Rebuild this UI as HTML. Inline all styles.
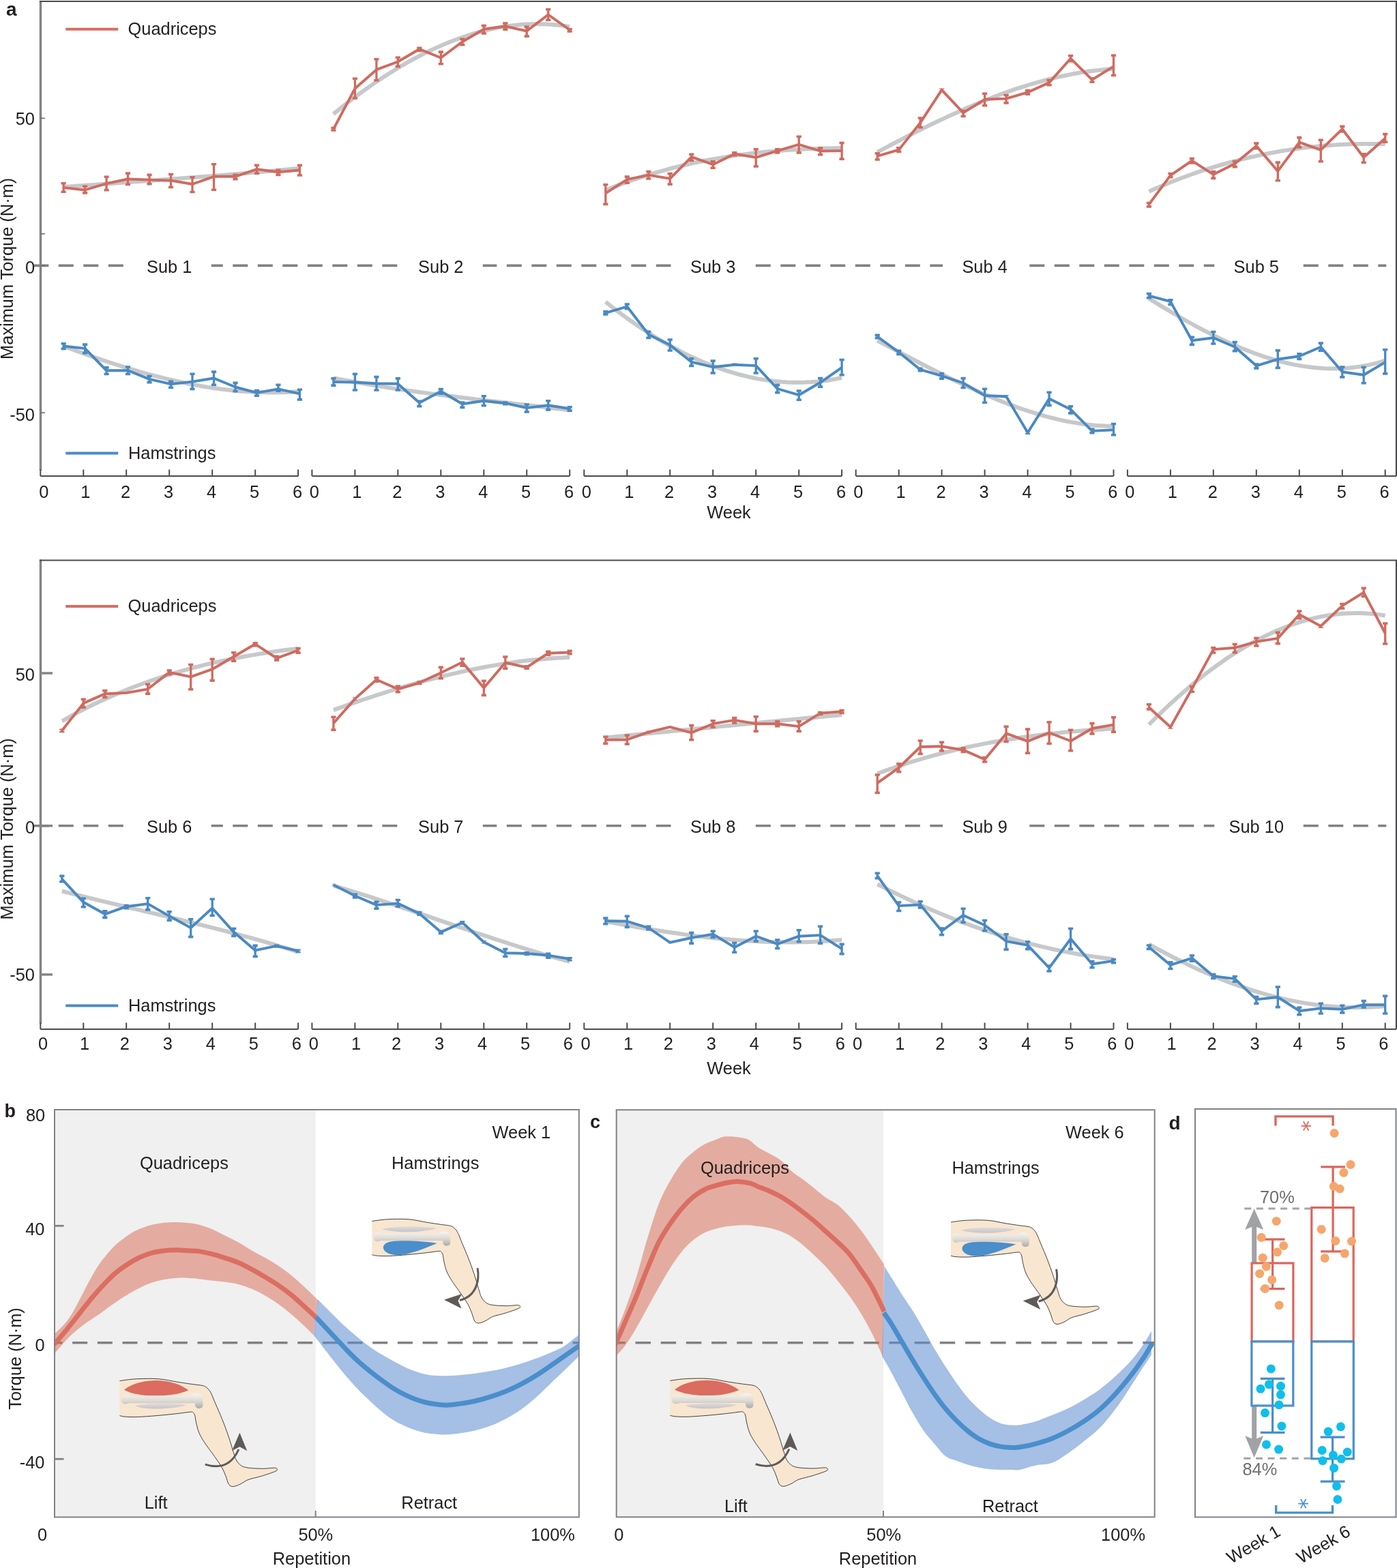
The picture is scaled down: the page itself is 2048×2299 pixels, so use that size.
<!DOCTYPE html>
<html><head><meta charset="utf-8"><title>Figure</title>
<style>html,body{margin:0;padding:0;background:#fff;}svg{display:block;}</style>
</head><body>
<svg xmlns="http://www.w3.org/2000/svg" width="2048" height="2299" viewBox="0 0 2048 2299" font-family="'Liberation Sans', Arial, Helvetica, sans-serif" fill="#221E1F">
<rect width="2048" height="2299" fill="#fff"/>
<path d="M93.1,274.2 L102,273.5 L110.8,272.8 L119.7,272.2 L128.6,271.5 L137.5,270.9 L146.4,270.2 L155.2,269.6 L164.1,268.9 L173,268.3 L181.9,267.6 L190.8,267 L199.6,266.3 L208.5,265.7 L217.4,265 L226.3,264.4 L235.2,263.7 L244.1,263.1 L252.9,262.4 L261.8,261.8 L270.7,261.1 L279.6,260.4 L288.5,259.8 L297.3,259.1 L306.2,258.4 L315.1,257.7 L324,257 L332.9,256.3 L341.7,255.5 L350.6,254.8 L359.5,254.1 L368.4,253.3 L377.3,252.5 L386.1,251.7 L395,251 L403.9,250.1 L412.8,249.3 L421.7,248.5 L430.5,247.6 L439.4,246.8" fill="none" stroke="#C7C8CA" stroke-width="6"/>
<path d="M93.1,507.4 L102,510.8 L110.8,514 L119.7,517.3 L128.6,520.4 L137.5,523.6 L146.4,526.6 L155.2,529.6 L164.1,532.5 L173,535.4 L181.9,538.2 L190.8,540.9 L199.6,543.5 L208.5,546.1 L217.4,548.6 L226.3,550.9 L235.2,553.2 L244.1,555.4 L252.9,557.5 L261.8,559.5 L270.7,561.4 L279.6,563.2 L288.5,564.9 L297.3,566.5 L306.2,567.9 L315.1,569.3 L324,570.5 L332.9,571.6 L341.7,572.5 L350.6,573.4 L359.5,574.1 L368.4,574.6 L377.3,575.1 L386.1,575.3 L395,575.5 L403.9,575.5 L412.8,575.3 L421.7,575 L430.5,574.5 L439.4,573.9" fill="none" stroke="#C7C8CA" stroke-width="6"/>
<path d="M488.9,167.1 L497.8,159.9 L506.6,152.9 L515.5,146 L524.4,139.4 L533.3,132.9 L542.2,126.6 L551,120.4 L559.9,114.5 L568.8,108.7 L577.7,103.2 L586.6,97.8 L595.4,92.6 L604.3,87.7 L613.2,82.9 L622.1,78.3 L631,74 L639.9,69.9 L648.7,65.9 L657.6,62.2 L666.5,58.8 L675.4,55.5 L684.3,52.5 L693.1,49.7 L702,47.1 L710.9,44.8 L719.8,42.7 L728.7,40.9 L737.5,39.3 L746.4,38 L755.3,36.9 L764.2,36.1 L773.1,35.5 L781.9,35.2 L790.8,35.2 L799.7,35.4 L808.6,35.9 L817.5,36.7 L826.3,37.7 L835.2,39.1" fill="none" stroke="#C7C8CA" stroke-width="6"/>
<path d="M488.9,554.2 L497.8,555.9 L506.6,557.6 L515.5,559.3 L524.4,560.9 L533.3,562.4 L542.2,563.9 L551,565.4 L559.9,566.9 L568.8,568.2 L577.7,569.6 L586.6,570.9 L595.4,572.2 L604.3,573.5 L613.2,574.7 L622.1,575.9 L631,577.1 L639.9,578.3 L648.7,579.4 L657.6,580.5 L666.5,581.6 L675.4,582.7 L684.3,583.8 L693.1,584.9 L702,585.9 L710.9,586.9 L719.8,588 L728.7,589 L737.5,590 L746.4,591 L755.3,592 L764.2,593 L773.1,594.1 L781.9,595.1 L790.8,596.1 L799.7,597.1 L808.6,598.2 L817.5,599.2 L826.3,600.3 L835.2,601.4" fill="none" stroke="#C7C8CA" stroke-width="6"/>
<path d="M887.8,279 L896.7,275.4 L905.5,271.9 L914.4,268.6 L923.3,265.4 L932.2,262.3 L941.1,259.4 L949.9,256.5 L958.8,253.8 L967.7,251.3 L976.6,248.8 L985.5,246.4 L994.3,244.2 L1003.2,242 L1012.1,240 L1021,238.1 L1029.9,236.3 L1038.8,234.5 L1047.6,232.9 L1056.5,231.4 L1065.4,229.9 L1074.3,228.6 L1083.2,227.3 L1092,226.2 L1100.9,225.1 L1109.8,224.1 L1118.7,223.1 L1127.6,222.3 L1136.4,221.5 L1145.3,220.8 L1154.2,220.1 L1163.1,219.6 L1172,219.1 L1180.8,218.6 L1189.7,218.2 L1198.6,217.9 L1207.5,217.6 L1216.4,217.4 L1225.2,217.2 L1234.1,217.1" fill="none" stroke="#C7C8CA" stroke-width="6"/>
<path d="M887.8,442.6 L896.7,449.6 L905.5,456.4 L914.4,463.1 L923.3,469.5 L932.2,475.7 L941.1,481.7 L949.9,487.6 L958.8,493.2 L967.7,498.6 L976.6,503.8 L985.5,508.7 L994.3,513.5 L1003.2,518.1 L1012.1,522.4 L1021,526.5 L1029.9,530.4 L1038.8,534.1 L1047.6,537.5 L1056.5,540.7 L1065.4,543.7 L1074.3,546.4 L1083.2,549 L1092,551.2 L1100.9,553.3 L1109.8,555.1 L1118.7,556.6 L1127.6,557.9 L1136.4,559 L1145.3,559.8 L1154.2,560.4 L1163.1,560.7 L1172,560.7 L1180.8,560.6 L1189.7,560.1 L1198.6,559.4 L1207.5,558.4 L1216.4,557.2 L1225.2,555.6 L1234.1,553.9" fill="none" stroke="#C7C8CA" stroke-width="6"/>
<path d="M1286.2,223.1 L1295.1,218.3 L1303.9,213.6 L1312.8,209 L1321.7,204.3 L1330.6,199.8 L1339.5,195.2 L1348.3,190.8 L1357.2,186.4 L1366.1,182 L1375,177.8 L1383.9,173.6 L1392.7,169.4 L1401.6,165.4 L1410.5,161.4 L1419.4,157.5 L1428.3,153.8 L1437.2,150.1 L1446,146.5 L1454.9,143 L1463.8,139.6 L1472.7,136.3 L1481.6,133.2 L1490.4,130.2 L1499.3,127.3 L1508.2,124.5 L1517.1,121.8 L1526,119.3 L1534.8,116.9 L1543.7,114.7 L1552.6,112.6 L1561.5,110.7 L1570.4,108.9 L1579.2,107.2 L1588.1,105.8 L1597,104.5 L1605.9,103.4 L1614.8,102.4 L1623.6,101.6 L1632.5,101" fill="none" stroke="#C7C8CA" stroke-width="6"/>
<path d="M1286.2,499.3 L1295.1,504 L1303.9,508.7 L1312.8,513.4 L1321.7,518.1 L1330.6,522.7 L1339.5,527.4 L1348.3,532 L1357.2,536.6 L1366.1,541.2 L1375,545.7 L1383.9,550.2 L1392.7,554.6 L1401.6,558.9 L1410.5,563.1 L1419.4,567.3 L1428.3,571.4 L1437.2,575.4 L1446,579.2 L1454.9,583 L1463.8,586.7 L1472.7,590.2 L1481.6,593.6 L1490.4,596.9 L1499.3,600 L1508.2,602.9 L1517.1,605.7 L1526,608.4 L1534.8,610.9 L1543.7,613.2 L1552.6,615.3 L1561.5,617.2 L1570.4,618.9 L1579.2,620.4 L1588.1,621.7 L1597,622.8 L1605.9,623.7 L1614.8,624.3 L1623.6,624.7 L1632.5,624.8" fill="none" stroke="#C7C8CA" stroke-width="6"/>
<path d="M1684.4,280.7 L1693.3,276.8 L1702.1,273 L1711,269.3 L1719.9,265.7 L1728.8,262.3 L1737.7,259 L1746.5,255.8 L1755.4,252.7 L1764.3,249.7 L1773.2,246.9 L1782.1,244.1 L1790.9,241.5 L1799.8,239 L1808.7,236.6 L1817.6,234.3 L1826.5,232.1 L1835.4,230 L1844.2,228.1 L1853.1,226.2 L1862,224.5 L1870.9,222.9 L1879.8,221.3 L1888.6,219.9 L1897.5,218.6 L1906.4,217.4 L1915.3,216.3 L1924.2,215.3 L1933,214.4 L1941.9,213.6 L1950.8,212.9 L1959.7,212.3 L1968.6,211.8 L1977.4,211.5 L1986.3,211.2 L1995.2,211 L2004.1,210.9 L2013,210.9 L2021.8,211 L2030.7,211.2" fill="none" stroke="#C7C8CA" stroke-width="6"/>
<path d="M1684.4,437.5 L1693.3,443.1 L1702.1,448.6 L1711,453.9 L1719.9,459.3 L1728.8,464.5 L1737.7,469.6 L1746.5,474.5 L1755.4,479.4 L1764.3,484.1 L1773.2,488.7 L1782.1,493.2 L1790.9,497.5 L1799.8,501.6 L1808.7,505.6 L1817.6,509.4 L1826.5,513.1 L1835.4,516.5 L1844.2,519.7 L1853.1,522.8 L1862,525.6 L1870.9,528.2 L1879.8,530.6 L1888.6,532.7 L1897.5,534.6 L1906.4,536.2 L1915.3,537.6 L1924.2,538.7 L1933,539.6 L1941.9,540.2 L1950.8,540.4 L1959.7,540.4 L1968.6,540.1 L1977.4,539.5 L1986.3,538.5 L1995.2,537.2 L2004.1,535.6 L2013,533.7 L2021.8,531.4 L2030.7,528.7" fill="none" stroke="#C7C8CA" stroke-width="6"/>
<line x1="49.3" y1="389.4" x2="2032.3" y2="389.4" stroke="#808184" stroke-width="3.6" stroke-dasharray="22 14.5"/>
<rect x="186.7" y="374.4" width="123" height="30" fill="#fff"/>
<text x="248.2" y="399.8" font-size="25.4" text-anchor="middle">Sub 1</text>
<rect x="584.8" y="374.4" width="123" height="30" fill="#fff"/>
<text x="646.3" y="399.8" font-size="25.4" text-anchor="middle">Sub 2</text>
<rect x="983.7" y="374.4" width="123" height="30" fill="#fff"/>
<text x="1045.2" y="399.8" font-size="25.4" text-anchor="middle">Sub 3</text>
<rect x="1382.1" y="374.4" width="123" height="30" fill="#fff"/>
<text x="1443.6" y="399.8" font-size="25.4" text-anchor="middle">Sub 4</text>
<rect x="1780.3" y="374.4" width="123" height="30" fill="#fff"/>
<text x="1841.8" y="399.8" font-size="25.4" text-anchor="middle">Sub 5</text>
<polyline points="93.1,275.1 124.6,278.5 156.1,269.2 187.5,262.5 219,263.6 250.5,264.7 282,270 313.5,258.8 345,258.8 376.5,248.1 407.9,252.3 439.4,249.5" fill="none" stroke="#CE6B60" stroke-width="3.9" stroke-linejoin="round"/>
<path d="M93.1,268V282M124.6,272.5V283.7M156.1,258.4V279.5M187.5,253.3V271.3M219,255.6V270.5M250.5,254.7V275.3M282,259V282.3M313.5,240V279M345,255.6V263.4M376.5,241.5V255M407.9,248.6V257.2M439.4,241.5V257.8" fill="none" stroke="#CE6B60" stroke-width="3.3"/>
<path d="M89.5,267h7.2v3.6h-7.2zM89.5,283h7.2v-3.6h-7.2zM121,271.5h7.2v3.6h-7.2zM121,284.7h7.2v-3.6h-7.2zM152.5,257.4h7.2v3.6h-7.2zM152.5,280.5h7.2v-3.6h-7.2zM183.9,252.3h7.2v3.6h-7.2zM183.9,272.3h7.2v-3.6h-7.2zM215.4,254.6h7.2v3.6h-7.2zM215.4,271.5h7.2v-3.6h-7.2zM246.9,253.7h7.2v3.6h-7.2zM246.9,276.3h7.2v-3.6h-7.2zM278.4,258h7.2v3.6h-7.2zM278.4,283.3h7.2v-3.6h-7.2zM309.9,239h7.2v3.6h-7.2zM309.9,280h7.2v-3.6h-7.2zM341.4,254.6h7.2v3.6h-7.2zM341.4,264.4h7.2v-3.6h-7.2zM372.9,240.5h7.2v3.6h-7.2zM372.9,256h7.2v-3.6h-7.2zM404.3,247.6h7.2v3.6h-7.2zM404.3,258.2h7.2v-3.6h-7.2zM435.8,240.5h7.2v3.6h-7.2zM435.8,258.8h7.2v-3.6h-7.2z" fill="#CE6B60"/>
<polyline points="93.1,507.5 124.6,510.9 156.1,543.3 187.5,543.3 219,555.9 250.5,563.2 282,559.6 313.5,554.5 345,567.5 376.5,575.9 407.9,570.3 439.4,577.3" fill="none" stroke="#4A89C2" stroke-width="3.9" stroke-linejoin="round"/>
<path d="M93.1,502.9V512.2M124.6,504.3V518.4M156.1,538.1V549.3M187.5,537.2V549.3M219,550.7V561.4M250.5,558.6V569M282,547.4V571.2M313.5,544.3V565.1M345,560.6V574.6M376.5,571.8V581.1M407.9,563.4V574M439.4,570.4V586.7" fill="none" stroke="#4A89C2" stroke-width="3.3"/>
<path d="M89.5,501.9h7.2v3.6h-7.2zM89.5,513.2h7.2v-3.6h-7.2zM121,503.3h7.2v3.6h-7.2zM121,519.4h7.2v-3.6h-7.2zM152.5,537.1h7.2v3.6h-7.2zM152.5,550.3h7.2v-3.6h-7.2zM183.9,536.2h7.2v3.6h-7.2zM183.9,550.3h7.2v-3.6h-7.2zM215.4,549.7h7.2v3.6h-7.2zM215.4,562.4h7.2v-3.6h-7.2zM246.9,557.6h7.2v3.6h-7.2zM246.9,570h7.2v-3.6h-7.2zM278.4,546.4h7.2v3.6h-7.2zM278.4,572.2h7.2v-3.6h-7.2zM309.9,543.3h7.2v3.6h-7.2zM309.9,566.1h7.2v-3.6h-7.2zM341.4,559.6h7.2v3.6h-7.2zM341.4,575.6h7.2v-3.6h-7.2zM372.9,570.8h7.2v3.6h-7.2zM372.9,582.1h7.2v-3.6h-7.2zM404.3,562.4h7.2v3.6h-7.2zM404.3,575h7.2v-3.6h-7.2zM435.8,569.4h7.2v3.6h-7.2zM435.8,587.7h7.2v-3.6h-7.2z" fill="#4A89C2"/>
<polyline points="488.9,189.2 520.4,129.7 551.9,102.2 583.3,90.5 614.8,72 646.3,84.7 677.8,61.2 709.3,42.7 740.8,38.5 772.2,45.5 803.7,21.5 835.2,43.8" fill="none" stroke="#CE6B60" stroke-width="3.9" stroke-linejoin="round"/>
<path d="M488.9,186.8V191.7M520.4,114.5V144.8M551.9,85.9V118.5M583.3,83.4V98.2M614.8,69.5V75.2M646.3,75.3V94.5M677.8,56.4V66.4M709.3,36.8V49.8M740.8,33.3V44M772.2,38.6V53.9M803.7,13V30.2M835.2,42.1V46.8" fill="none" stroke="#CE6B60" stroke-width="3.3"/>
<path d="M485.3,185.8h7.2v3.6h-7.2zM485.3,192.7h7.2v-3.6h-7.2zM516.8,113.5h7.2v3.6h-7.2zM516.8,145.8h7.2v-3.6h-7.2zM548.3,84.9h7.2v3.6h-7.2zM548.3,119.5h7.2v-3.6h-7.2zM579.7,82.4h7.2v3.6h-7.2zM579.7,99.2h7.2v-3.6h-7.2zM611.2,68.5h7.2v3.6h-7.2zM611.2,76.2h7.2v-3.6h-7.2zM642.7,74.3h7.2v3.6h-7.2zM642.7,95.5h7.2v-3.6h-7.2zM674.2,55.4h7.2v3.6h-7.2zM674.2,67.4h7.2v-3.6h-7.2zM705.7,35.8h7.2v3.6h-7.2zM705.7,50.8h7.2v-3.6h-7.2zM737.2,32.3h7.2v3.6h-7.2zM737.2,45h7.2v-3.6h-7.2zM768.6,37.6h7.2v3.6h-7.2zM768.6,54.9h7.2v-3.6h-7.2zM800.1,12h7.2v3.6h-7.2zM800.1,31.2h7.2v-3.6h-7.2zM831.6,41.1h7.2v3.6h-7.2zM831.6,47.8h7.2v-3.6h-7.2z" fill="#CE6B60"/>
<polyline points="488.9,560 520.4,560.5 551.9,562.3 583.3,562.8 614.8,590.5 646.3,573.8 677.8,592.3 709.3,587.7 740.8,591.2 772.2,598.1 803.7,594.2 835.2,599.2" fill="none" stroke="#4A89C2" stroke-width="3.9" stroke-linejoin="round"/>
<path d="M488.9,554.1V565.9M520.4,547.6V572.8M551.9,551.8V572.8M583.3,554.1V572.8M614.8,587.5V596.4M646.3,569.8V577.9M677.8,589.2V598.2M709.3,579.9V595.5M740.8,589.2V593.6M772.2,592.2V604.7M803.7,586.9V601.7M835.2,596.1V602.9" fill="none" stroke="#4A89C2" stroke-width="3.3"/>
<path d="M485.3,553.1h7.2v3.6h-7.2zM485.3,566.9h7.2v-3.6h-7.2zM516.8,546.6h7.2v3.6h-7.2zM516.8,573.8h7.2v-3.6h-7.2zM548.3,550.8h7.2v3.6h-7.2zM548.3,573.8h7.2v-3.6h-7.2zM579.7,553.1h7.2v3.6h-7.2zM579.7,573.8h7.2v-3.6h-7.2zM611.2,586.5h7.2v3.6h-7.2zM611.2,597.4h7.2v-3.6h-7.2zM642.7,568.8h7.2v3.6h-7.2zM642.7,578.9h7.2v-3.6h-7.2zM674.2,588.2h7.2v3.6h-7.2zM674.2,599.2h7.2v-3.6h-7.2zM705.7,578.9h7.2v3.6h-7.2zM705.7,596.5h7.2v-3.6h-7.2zM737.2,588.2h7.2v3.6h-7.2zM737.2,594.6h7.2v-3.6h-7.2zM768.6,591.2h7.2v3.6h-7.2zM768.6,605.7h7.2v-3.6h-7.2zM800.1,585.9h7.2v3.6h-7.2zM800.1,602.7h7.2v-3.6h-7.2zM831.6,595.1h7.2v3.6h-7.2zM831.6,603.9h7.2v-3.6h-7.2z" fill="#4A89C2"/>
<polyline points="887.8,283.4 919.3,263.1 950.8,256.6 982.2,261.9 1013.7,230.1 1045.2,241.2 1076.7,225.7 1108.2,230.8 1139.7,221.1 1171.2,211.8 1202.6,221.5 1234.1,221.1" fill="none" stroke="#CE6B60" stroke-width="3.9" stroke-linejoin="round"/>
<path d="M887.8,269.9V300.2M919.3,258.3V269M950.8,250.7V262.8M982.2,253.7V270.9M1013.7,225.5V236M1045.2,235.9V247.1M1076.7,223V228.6M1108.2,217.9V244.8M1139.7,217.9V224.7M1171.2,199.5V224.7M1202.6,216.3V227.5M1234.1,208.7V233.9" fill="none" stroke="#CE6B60" stroke-width="3.3"/>
<path d="M884.2,268.9h7.2v3.6h-7.2zM884.2,301.2h7.2v-3.6h-7.2zM915.7,257.3h7.2v3.6h-7.2zM915.7,270h7.2v-3.6h-7.2zM947.2,249.7h7.2v3.6h-7.2zM947.2,263.8h7.2v-3.6h-7.2zM978.6,252.7h7.2v3.6h-7.2zM978.6,271.9h7.2v-3.6h-7.2zM1010.1,224.5h7.2v3.6h-7.2zM1010.1,237h7.2v-3.6h-7.2zM1041.6,234.9h7.2v3.6h-7.2zM1041.6,248.1h7.2v-3.6h-7.2zM1073.1,222h7.2v3.6h-7.2zM1073.1,229.6h7.2v-3.6h-7.2zM1104.6,216.9h7.2v3.6h-7.2zM1104.6,245.8h7.2v-3.6h-7.2zM1136.1,216.9h7.2v3.6h-7.2zM1136.1,225.7h7.2v-3.6h-7.2zM1167.6,198.5h7.2v3.6h-7.2zM1167.6,225.7h7.2v-3.6h-7.2zM1199,215.3h7.2v3.6h-7.2zM1199,228.5h7.2v-3.6h-7.2zM1230.5,207.7h7.2v3.6h-7.2zM1230.5,234.9h7.2v-3.6h-7.2z" fill="#CE6B60"/>
<polyline points="887.8,458.8 919.3,449.5 950.8,490.4 982.2,505.8 1013.7,530.8 1045.2,538.2 1076.7,534.7 1108.2,536.1 1139.7,570 1171.2,579.2 1202.6,560.8 1234.1,538.9" fill="none" stroke="#4A89C2" stroke-width="3.9" stroke-linejoin="round"/>
<path d="M887.8,456.1V461.7M919.3,445.2V453.6M950.8,485.6V496.3M982.2,497.2V514.8M1013.7,524.9V537.2M1045.2,528.3V547.8M1076.7,533.4V536M1108.2,524.9V547.8M1139.7,563.6V576.4M1171.2,572.2V587M1202.6,553.7V567.9M1234.1,526.7V550.5" fill="none" stroke="#4A89C2" stroke-width="3.3"/>
<path d="M884.2,455.1h7.2v3.6h-7.2zM884.2,462.7h7.2v-3.6h-7.2zM915.7,444.2h7.2v3.6h-7.2zM915.7,454.6h7.2v-3.6h-7.2zM947.2,484.6h7.2v3.6h-7.2zM947.2,497.3h7.2v-3.6h-7.2zM978.6,496.2h7.2v3.6h-7.2zM978.6,515.8h7.2v-3.6h-7.2zM1010.1,523.9h7.2v3.6h-7.2zM1010.1,538.2h7.2v-3.6h-7.2zM1041.6,527.3h7.2v3.6h-7.2zM1041.6,548.8h7.2v-3.6h-7.2zM1073.1,532.4h7.2v3.6h-7.2zM1073.1,537h7.2v-3.6h-7.2zM1104.6,523.9h7.2v3.6h-7.2zM1104.6,548.8h7.2v-3.6h-7.2zM1136.1,562.6h7.2v3.6h-7.2zM1136.1,577.4h7.2v-3.6h-7.2zM1167.6,571.2h7.2v3.6h-7.2zM1167.6,588h7.2v-3.6h-7.2zM1199,552.7h7.2v3.6h-7.2zM1199,568.9h7.2v-3.6h-7.2zM1230.5,525.7h7.2v3.6h-7.2zM1230.5,551.5h7.2v-3.6h-7.2z" fill="#4A89C2"/>
<polyline points="1286.2,228.9 1317.7,219.6 1349.2,179.9 1380.6,131.9 1412.1,165.4 1443.6,145.8 1475.1,144.6 1506.6,135.4 1538.1,121.1 1569.6,85.8 1601,116.9 1632.5,97.3" fill="none" stroke="#CE6B60" stroke-width="3.9" stroke-linejoin="round"/>
<path d="M1286.2,224.1V234.8M1317.7,216V223.2M1349.2,172.2V187.5M1380.6,130.5V133.3M1412.1,161.8V171.3M1443.6,136.4V155.6M1475.1,138.7V151.7M1506.6,131.8V139M1538.1,116.8V125.6M1569.6,81V90.5M1601,114V121M1632.5,80.5V111.3" fill="none" stroke="#CE6B60" stroke-width="3.3"/>
<path d="M1282.6,223.1h7.2v3.6h-7.2zM1282.6,235.8h7.2v-3.6h-7.2zM1314.1,215h7.2v3.6h-7.2zM1314.1,224.2h7.2v-3.6h-7.2zM1345.6,171.2h7.2v3.6h-7.2zM1345.6,188.5h7.2v-3.6h-7.2zM1377,129.5h7.2v3.6h-7.2zM1377,134.3h7.2v-3.6h-7.2zM1408.5,160.8h7.2v3.6h-7.2zM1408.5,172.3h7.2v-3.6h-7.2zM1440,135.4h7.2v3.6h-7.2zM1440,156.6h7.2v-3.6h-7.2zM1471.5,137.7h7.2v3.6h-7.2zM1471.5,152.7h7.2v-3.6h-7.2zM1503,130.8h7.2v3.6h-7.2zM1503,140h7.2v-3.6h-7.2zM1534.5,115.8h7.2v3.6h-7.2zM1534.5,126.6h7.2v-3.6h-7.2zM1566,80h7.2v3.6h-7.2zM1566,91.5h7.2v-3.6h-7.2zM1597.4,113h7.2v3.6h-7.2zM1597.4,122h7.2v-3.6h-7.2zM1628.9,79.5h7.2v3.6h-7.2zM1628.9,112.3h7.2v-3.6h-7.2z" fill="#CE6B60"/>
<polyline points="1286.2,493.5 1317.7,516.5 1349.2,541.9 1380.6,551.2 1412.1,561.5 1443.6,580 1475.1,581.2 1506.6,634.2 1538.1,584.6 1569.6,600.3 1601,631.9 1632.5,630.3" fill="none" stroke="#4A89C2" stroke-width="3.9" stroke-linejoin="round"/>
<path d="M1286.2,490.5V496.4M1317.7,513.6V520.2M1349.2,539.5V544.4M1380.6,546.8V555.9M1412.1,553.8V569.3M1443.6,569.5V591M1475.1,579.9V582.5M1506.6,632.5V636M1538.1,574.5V595.2M1569.6,594.9V606.7M1601,628.3V635.6M1632.5,620.7V638.5" fill="none" stroke="#4A89C2" stroke-width="3.3"/>
<path d="M1282.6,489.5h7.2v3.6h-7.2zM1282.6,497.4h7.2v-3.6h-7.2zM1314.1,512.6h7.2v3.6h-7.2zM1314.1,521.2h7.2v-3.6h-7.2zM1345.6,538.5h7.2v3.6h-7.2zM1345.6,545.4h7.2v-3.6h-7.2zM1377,545.8h7.2v3.6h-7.2zM1377,556.9h7.2v-3.6h-7.2zM1408.5,552.8h7.2v3.6h-7.2zM1408.5,570.3h7.2v-3.6h-7.2zM1440,568.5h7.2v3.6h-7.2zM1440,592h7.2v-3.6h-7.2zM1471.5,578.9h7.2v3.6h-7.2zM1471.5,583.5h7.2v-3.6h-7.2zM1503,631.5h7.2v3.6h-7.2zM1503,637h7.2v-3.6h-7.2zM1534.5,573.5h7.2v3.6h-7.2zM1534.5,596.2h7.2v-3.6h-7.2zM1566,593.9h7.2v3.6h-7.2zM1566,607.7h7.2v-3.6h-7.2zM1597.4,627.3h7.2v3.6h-7.2zM1597.4,636.6h7.2v-3.6h-7.2zM1628.9,619.7h7.2v3.6h-7.2zM1628.9,639.5h7.2v-3.6h-7.2z" fill="#4A89C2"/>
<polyline points="1684.4,299.7 1715.9,257.2 1747.4,235.6 1778.8,255.8 1810.3,240.1 1841.8,213.9 1873.3,250.9 1904.8,208.7 1936.3,219.9 1967.8,189.2 1999.2,230.7 2030.7,202.7" fill="none" stroke="#CE6B60" stroke-width="3.9" stroke-linejoin="round"/>
<path d="M1684.4,296.7V303.7M1715.9,253.7V260.6M1747.4,231.7V239.8M1778.8,250.8V262.2M1810.3,235.7V245.4M1841.8,209.3V218.5M1873.3,237.3V265.6M1904.8,200.8V216.7M1936.3,204.4V237.5M1967.8,184.6V193.8M1999.2,225V239.1M2030.7,195.8V209.1" fill="none" stroke="#CE6B60" stroke-width="3.3"/>
<path d="M1680.8,295.7h7.2v3.6h-7.2zM1680.8,304.7h7.2v-3.6h-7.2zM1712.3,252.7h7.2v3.6h-7.2zM1712.3,261.6h7.2v-3.6h-7.2zM1743.8,230.7h7.2v3.6h-7.2zM1743.8,240.8h7.2v-3.6h-7.2zM1775.2,249.8h7.2v3.6h-7.2zM1775.2,263.2h7.2v-3.6h-7.2zM1806.7,234.7h7.2v3.6h-7.2zM1806.7,246.4h7.2v-3.6h-7.2zM1838.2,208.3h7.2v3.6h-7.2zM1838.2,219.5h7.2v-3.6h-7.2zM1869.7,236.3h7.2v3.6h-7.2zM1869.7,266.6h7.2v-3.6h-7.2zM1901.2,199.8h7.2v3.6h-7.2zM1901.2,217.7h7.2v-3.6h-7.2zM1932.7,203.4h7.2v3.6h-7.2zM1932.7,238.5h7.2v-3.6h-7.2zM1964.2,183.6h7.2v3.6h-7.2zM1964.2,194.8h7.2v-3.6h-7.2zM1995.6,224h7.2v3.6h-7.2zM1995.6,240.1h7.2v-3.6h-7.2zM2027.1,194.8h7.2v3.6h-7.2zM2027.1,210.1h7.2v-3.6h-7.2z" fill="#CE6B60"/>
<polyline points="1684.4,433.6 1715.9,442.1 1747.4,499.3 1778.8,495.3 1810.3,508.7 1841.8,536.3 1873.3,526.7 1904.8,522.2 1936.3,508.7 1967.8,545.3 1999.2,549.7 2030.7,531.1" fill="none" stroke="#4A89C2" stroke-width="3.9" stroke-linejoin="round"/>
<path d="M1684.4,429.7V437.6M1715.9,439.1V447.2M1747.4,493.4V506.2M1778.8,485.7V504.8M1810.3,500.8V515.6M1841.8,533.3V540.7M1873.3,513.1V540.2M1904.8,518V527.2M1936.3,502.3V515.1M1967.8,537.3V553.7M1999.2,537.7V562.6M2030.7,512V548.7" fill="none" stroke="#4A89C2" stroke-width="3.3"/>
<path d="M1680.8,428.7h7.2v3.6h-7.2zM1680.8,438.6h7.2v-3.6h-7.2zM1712.3,438.1h7.2v3.6h-7.2zM1712.3,448.2h7.2v-3.6h-7.2zM1743.8,492.4h7.2v3.6h-7.2zM1743.8,507.2h7.2v-3.6h-7.2zM1775.2,484.7h7.2v3.6h-7.2zM1775.2,505.8h7.2v-3.6h-7.2zM1806.7,499.8h7.2v3.6h-7.2zM1806.7,516.6h7.2v-3.6h-7.2zM1838.2,532.3h7.2v3.6h-7.2zM1838.2,541.7h7.2v-3.6h-7.2zM1869.7,512.1h7.2v3.6h-7.2zM1869.7,541.2h7.2v-3.6h-7.2zM1901.2,517h7.2v3.6h-7.2zM1901.2,528.2h7.2v-3.6h-7.2zM1932.7,501.3h7.2v3.6h-7.2zM1932.7,516.1h7.2v-3.6h-7.2zM1964.2,536.3h7.2v3.6h-7.2zM1964.2,554.7h7.2v-3.6h-7.2zM1995.6,536.7h7.2v3.6h-7.2zM1995.6,563.6h7.2v-3.6h-7.2zM2027.1,511h7.2v3.6h-7.2zM2027.1,549.7h7.2v-3.6h-7.2z" fill="#4A89C2"/>
<line x1="59.5" y1="1" x2="59.5" y2="690" stroke="#828387" stroke-width="3.5"/>
<path d="M58,2H2047V698" fill="none" stroke="#4B4B4D" stroke-width="2.2"/>
<line x1="59" y1="173.4" x2="66" y2="173.4" stroke="#6d6e71" stroke-width="1.6"/>
<text x="51" y="183.2" font-size="25.4" text-anchor="end">50</text>
<line x1="59" y1="389.4" x2="66" y2="389.4" stroke="#6d6e71" stroke-width="1.6"/>
<text x="51" y="401.3" font-size="25.4" text-anchor="end">0</text>
<line x1="59" y1="605.2" x2="66" y2="605.2" stroke="#6d6e71" stroke-width="1.6"/>
<text x="51" y="617.3" font-size="25.4" text-anchor="end">-50</text>
<path d="M59.3,698H437.1M59.3,698V688.5M122.3,698V688.5M185.2,698V688.5M248.2,698V688.5M311.2,698V688.5M374.2,698V688.5M437.1,698V688.5" fill="none" stroke="#4B4B4D" stroke-width="2"/>
<text x="64.2" y="730" font-size="25.4" text-anchor="middle">0</text>
<text x="125.2" y="730" font-size="25.4" text-anchor="middle">1</text>
<text x="184.1" y="730" font-size="25.4" text-anchor="middle">2</text>
<text x="247.1" y="730" font-size="25.4" text-anchor="middle">3</text>
<text x="310.1" y="730" font-size="25.4" text-anchor="middle">4</text>
<text x="373.1" y="730" font-size="25.4" text-anchor="middle">5</text>
<text x="436" y="730" font-size="25.4" text-anchor="middle">6</text>
<path d="M457.4,698H835.2M457.4,698V688.5M520.4,698V688.5M583.3,698V688.5M646.3,698V688.5M709.3,698V688.5M772.2,698V688.5M835.2,698V688.5" fill="none" stroke="#4B4B4D" stroke-width="2"/>
<text x="460.9" y="730" font-size="25.4" text-anchor="middle">0</text>
<text x="523.3" y="730" font-size="25.4" text-anchor="middle">1</text>
<text x="582.2" y="730" font-size="25.4" text-anchor="middle">2</text>
<text x="645.2" y="730" font-size="25.4" text-anchor="middle">3</text>
<text x="708.2" y="730" font-size="25.4" text-anchor="middle">4</text>
<text x="771.1" y="730" font-size="25.4" text-anchor="middle">5</text>
<text x="834.1" y="730" font-size="25.4" text-anchor="middle">6</text>
<path d="M856.3,698H1234.1M856.3,698V688.5M919.3,698V688.5M982.2,698V688.5M1045.2,698V688.5M1108.2,698V688.5M1171.2,698V688.5M1234.1,698V688.5" fill="none" stroke="#4B4B4D" stroke-width="2"/>
<text x="859.8" y="730" font-size="25.4" text-anchor="middle">0</text>
<text x="922.2" y="730" font-size="25.4" text-anchor="middle">1</text>
<text x="981.1" y="730" font-size="25.4" text-anchor="middle">2</text>
<text x="1044.1" y="730" font-size="25.4" text-anchor="middle">3</text>
<text x="1107.1" y="730" font-size="25.4" text-anchor="middle">4</text>
<text x="1170.1" y="730" font-size="25.4" text-anchor="middle">5</text>
<text x="1233" y="730" font-size="25.4" text-anchor="middle">6</text>
<path d="M1254.7,698H1632.5M1254.7,698V688.5M1317.7,698V688.5M1380.6,698V688.5M1443.6,698V688.5M1506.6,698V688.5M1569.6,698V688.5M1632.5,698V688.5" fill="none" stroke="#4B4B4D" stroke-width="2"/>
<text x="1258.2" y="730" font-size="25.4" text-anchor="middle">0</text>
<text x="1320.6" y="730" font-size="25.4" text-anchor="middle">1</text>
<text x="1379.5" y="730" font-size="25.4" text-anchor="middle">2</text>
<text x="1442.5" y="730" font-size="25.4" text-anchor="middle">3</text>
<text x="1505.5" y="730" font-size="25.4" text-anchor="middle">4</text>
<text x="1568.5" y="730" font-size="25.4" text-anchor="middle">5</text>
<text x="1631.4" y="730" font-size="25.4" text-anchor="middle">6</text>
<path d="M1652.9,698H2047M1652.9,698V688.5M1715.9,698V688.5M1778.8,698V688.5M1841.8,698V688.5M1904.8,698V688.5M1967.8,698V688.5M2030.7,698V688.5" fill="none" stroke="#4B4B4D" stroke-width="2"/>
<text x="1656.4" y="730" font-size="25.4" text-anchor="middle">0</text>
<text x="1718.8" y="730" font-size="25.4" text-anchor="middle">1</text>
<text x="1777.7" y="730" font-size="25.4" text-anchor="middle">2</text>
<text x="1840.7" y="730" font-size="25.4" text-anchor="middle">3</text>
<text x="1903.7" y="730" font-size="25.4" text-anchor="middle">4</text>
<text x="1966.7" y="730" font-size="25.4" text-anchor="middle">5</text>
<text x="2029.6" y="730" font-size="25.4" text-anchor="middle">6</text>
<text x="1068.6" y="760" font-size="25.4" text-anchor="middle">Week</text>
<line x1="96.3" y1="42.8" x2="173.2" y2="42.8" stroke="#D86C60" stroke-width="4"/>
<text x="187.6" y="50.6" font-size="25.4">Quadriceps</text>
<line x1="96.3" y1="664.5" x2="173.2" y2="664.5" stroke="#4A8BCA" stroke-width="4"/>
<text x="188" y="672.7" font-size="25.4">Hamstrings</text>
<text transform="translate(19.4,393.9) rotate(-90)" font-size="25.4" text-anchor="middle">Maximum Torque (N&#183;m)</text>
<line x1="59" y1="342.8" x2="66" y2="342.8" stroke="#6d6e71" stroke-width="1.6"/>
<path d="M90.8,1057.3 L99.7,1052.3 L108.5,1047.5 L117.4,1042.8 L126.3,1038.2 L135.2,1033.8 L144.1,1029.6 L152.9,1025.5 L161.8,1021.5 L170.7,1017.6 L179.6,1013.9 L188.5,1010.3 L197.3,1006.8 L206.2,1003.5 L215.1,1000.2 L224,997.1 L232.9,994.1 L241.8,991.2 L250.6,988.5 L259.5,985.8 L268.4,983.2 L277.3,980.8 L286.2,978.4 L295,976.1 L303.9,973.9 L312.8,971.9 L321.7,969.9 L330.6,967.9 L339.4,966.1 L348.3,964.4 L357.2,962.7 L366.1,961.1 L375,959.6 L383.8,958.2 L392.7,956.8 L401.6,955.5 L410.5,954.2 L419.4,953 L428.2,951.9 L437.1,950.8" fill="none" stroke="#C7C8CA" stroke-width="6"/>
<path d="M90.8,1306.5 L99.7,1308.8 L108.5,1311 L117.4,1313.2 L126.3,1315.4 L135.2,1317.6 L144.1,1319.8 L152.9,1321.9 L161.8,1324.1 L170.7,1326.2 L179.6,1328.3 L188.5,1330.5 L197.3,1332.6 L206.2,1334.7 L215.1,1336.8 L224,1338.9 L232.9,1341 L241.8,1343.2 L250.6,1345.3 L259.5,1347.4 L268.4,1349.6 L277.3,1351.8 L286.2,1354 L295,1356.2 L303.9,1358.4 L312.8,1360.6 L321.7,1362.9 L330.6,1365.2 L339.4,1367.6 L348.3,1369.9 L357.2,1372.3 L366.1,1374.7 L375,1377.2 L383.8,1379.7 L392.7,1382.2 L401.6,1384.8 L410.5,1387.5 L419.4,1390.2 L428.2,1392.9 L437.1,1395.7" fill="none" stroke="#C7C8CA" stroke-width="6"/>
<path d="M488.9,1041.1 L497.8,1037.9 L506.6,1034.7 L515.5,1031.6 L524.4,1028.6 L533.3,1025.5 L542.2,1022.6 L551,1019.7 L559.9,1016.8 L568.8,1014 L577.7,1011.3 L586.6,1008.6 L595.4,1005.9 L604.3,1003.4 L613.2,1000.9 L622.1,998.4 L631,996.1 L639.9,993.8 L648.7,991.5 L657.6,989.4 L666.5,987.3 L675.4,985.3 L684.3,983.3 L693.1,981.5 L702,979.7 L710.9,978 L719.8,976.4 L728.7,974.9 L737.5,973.4 L746.4,972.1 L755.3,970.8 L764.2,969.6 L773.1,968.6 L781.9,967.6 L790.8,966.7 L799.7,965.9 L808.6,965.3 L817.5,964.7 L826.3,964.2 L835.2,963.8" fill="none" stroke="#C7C8CA" stroke-width="6"/>
<path d="M488.9,1298.5 L497.8,1301.1 L506.6,1303.8 L515.5,1306.5 L524.4,1309.3 L533.3,1312.1 L542.2,1314.9 L551,1317.8 L559.9,1320.7 L568.8,1323.7 L577.7,1326.6 L586.6,1329.6 L595.4,1332.6 L604.3,1335.6 L613.2,1338.6 L622.1,1341.7 L631,1344.7 L639.9,1347.8 L648.7,1350.8 L657.6,1353.9 L666.5,1356.9 L675.4,1359.9 L684.3,1363 L693.1,1366 L702,1369 L710.9,1371.9 L719.8,1374.9 L728.7,1377.8 L737.5,1380.7 L746.4,1383.6 L755.3,1386.4 L764.2,1389.2 L773.1,1392 L781.9,1394.7 L790.8,1397.3 L799.7,1400 L808.6,1402.5 L817.5,1405 L826.3,1407.5 L835.2,1409.9" fill="none" stroke="#C7C8CA" stroke-width="6"/>
<path d="M887.8,1081.5 L896.7,1080.7 L905.5,1079.8 L914.4,1078.9 L923.3,1078.1 L932.2,1077.2 L941.1,1076.3 L949.9,1075.5 L958.8,1074.6 L967.7,1073.7 L976.6,1072.9 L985.5,1072 L994.3,1071.2 L1003.2,1070.3 L1012.1,1069.4 L1021,1068.6 L1029.9,1067.7 L1038.8,1066.9 L1047.6,1066 L1056.5,1065.1 L1065.4,1064.3 L1074.3,1063.4 L1083.2,1062.6 L1092,1061.7 L1100.9,1060.8 L1109.8,1060 L1118.7,1059.1 L1127.6,1058.3 L1136.4,1057.4 L1145.3,1056.5 L1154.2,1055.7 L1163.1,1054.8 L1172,1054 L1180.8,1053.1 L1189.7,1052.3 L1198.6,1051.4 L1207.5,1050.6 L1216.4,1049.7 L1225.2,1048.9 L1234.1,1048" fill="none" stroke="#C7C8CA" stroke-width="6"/>
<path d="M887.8,1350.9 L896.7,1352.6 L905.5,1354.2 L914.4,1355.8 L923.3,1357.4 L932.2,1359 L941.1,1360.5 L949.9,1362 L958.8,1363.4 L967.7,1364.8 L976.6,1366.2 L985.5,1367.5 L994.3,1368.8 L1003.2,1370.1 L1012.1,1371.2 L1021,1372.4 L1029.9,1373.4 L1038.8,1374.5 L1047.6,1375.4 L1056.5,1376.3 L1065.4,1377.1 L1074.3,1377.9 L1083.2,1378.6 L1092,1379.2 L1100.9,1379.8 L1109.8,1380.3 L1118.7,1380.7 L1127.6,1381 L1136.4,1381.2 L1145.3,1381.4 L1154.2,1381.5 L1163.1,1381.5 L1172,1381.3 L1180.8,1381.2 L1189.7,1380.9 L1198.6,1380.5 L1207.5,1380 L1216.4,1379.4 L1225.2,1378.7 L1234.1,1377.9" fill="none" stroke="#C7C8CA" stroke-width="6"/>
<path d="M1286.2,1134.3 L1295.1,1131 L1303.9,1127.8 L1312.8,1124.8 L1321.7,1121.8 L1330.6,1118.9 L1339.5,1116.2 L1348.3,1113.5 L1357.2,1110.9 L1366.1,1108.4 L1375,1106 L1383.9,1103.7 L1392.7,1101.5 L1401.6,1099.4 L1410.5,1097.3 L1419.4,1095.3 L1428.3,1093.4 L1437.2,1091.6 L1446,1089.9 L1454.9,1088.2 L1463.8,1086.6 L1472.7,1085.1 L1481.6,1083.7 L1490.4,1082.3 L1499.3,1081 L1508.2,1079.8 L1517.1,1078.6 L1526,1077.5 L1534.8,1076.4 L1543.7,1075.4 L1552.6,1074.5 L1561.5,1073.6 L1570.4,1072.8 L1579.2,1072 L1588.1,1071.3 L1597,1070.6 L1605.9,1070 L1614.8,1069.4 L1623.6,1068.8 L1632.5,1068.3" fill="none" stroke="#C7C8CA" stroke-width="6"/>
<path d="M1286.2,1296.3 L1295.1,1300.9 L1303.9,1305.4 L1312.8,1309.8 L1321.7,1314.1 L1330.6,1318.3 L1339.5,1322.4 L1348.3,1326.4 L1357.2,1330.4 L1366.1,1334.2 L1375,1338 L1383.9,1341.6 L1392.7,1345.2 L1401.6,1348.7 L1410.5,1352.1 L1419.4,1355.3 L1428.3,1358.5 L1437.2,1361.6 L1446,1364.7 L1454.9,1367.6 L1463.8,1370.4 L1472.7,1373.1 L1481.6,1375.8 L1490.4,1378.3 L1499.3,1380.8 L1508.2,1383.1 L1517.1,1385.4 L1526,1387.6 L1534.8,1389.7 L1543.7,1391.7 L1552.6,1393.6 L1561.5,1395.4 L1570.4,1397.1 L1579.2,1398.7 L1588.1,1400.2 L1597,1401.6 L1605.9,1402.9 L1614.8,1404.2 L1623.6,1405.3 L1632.5,1406.4" fill="none" stroke="#C7C8CA" stroke-width="6"/>
<path d="M1684.4,1062.4 L1693.3,1053.5 L1702.1,1044.8 L1711,1036.4 L1719.9,1028.2 L1728.8,1020.2 L1737.7,1012.4 L1746.5,1004.8 L1755.4,997.5 L1764.3,990.5 L1773.2,983.6 L1782.1,977 L1790.9,970.7 L1799.8,964.6 L1808.7,958.8 L1817.6,953.2 L1826.5,947.8 L1835.4,942.7 L1844.2,937.9 L1853.1,933.4 L1862,929.1 L1870.9,925.1 L1879.8,921.4 L1888.6,917.9 L1897.5,914.7 L1906.4,911.8 L1915.3,909.2 L1924.2,906.9 L1933,904.9 L1941.9,903.1 L1950.8,901.7 L1959.7,900.5 L1968.6,899.7 L1977.4,899.2 L1986.3,898.9 L1995.2,899 L2004.1,899.4 L2013,900.1 L2021.8,901.2 L2030.7,902.5" fill="none" stroke="#C7C8CA" stroke-width="6"/>
<path d="M1684.4,1384.5 L1693.3,1389.4 L1702.1,1394.2 L1711,1398.9 L1719.9,1403.5 L1728.8,1408 L1737.7,1412.4 L1746.5,1416.6 L1755.4,1420.7 L1764.3,1424.7 L1773.2,1428.6 L1782.1,1432.3 L1790.9,1435.9 L1799.8,1439.4 L1808.7,1442.7 L1817.6,1445.9 L1826.5,1448.9 L1835.4,1451.8 L1844.2,1454.6 L1853.1,1457.2 L1862,1459.6 L1870.9,1462 L1879.8,1464.1 L1888.6,1466.1 L1897.5,1467.9 L1906.4,1469.6 L1915.3,1471.1 L1924.2,1472.5 L1933,1473.7 L1941.9,1474.7 L1950.8,1475.5 L1959.7,1476.2 L1968.6,1476.7 L1977.4,1477 L1986.3,1477.2 L1995.2,1477.1 L2004.1,1476.9 L2013,1476.5 L2021.8,1475.9 L2030.7,1475.1" fill="none" stroke="#C7C8CA" stroke-width="6"/>
<line x1="49.3" y1="1210.8" x2="2032.3" y2="1210.8" stroke="#808184" stroke-width="3.6" stroke-dasharray="22 14.5"/>
<rect x="186.7" y="1195.8" width="123" height="30" fill="#fff"/>
<text x="248.2" y="1221" font-size="25.4" text-anchor="middle">Sub 6</text>
<rect x="584.8" y="1195.8" width="123" height="30" fill="#fff"/>
<text x="646.3" y="1221" font-size="25.4" text-anchor="middle">Sub 7</text>
<rect x="983.7" y="1195.8" width="123" height="30" fill="#fff"/>
<text x="1045.2" y="1221" font-size="25.4" text-anchor="middle">Sub 8</text>
<rect x="1382.1" y="1195.8" width="123" height="30" fill="#fff"/>
<text x="1443.6" y="1221" font-size="25.4" text-anchor="middle">Sub 9</text>
<rect x="1780.3" y="1195.8" width="123" height="30" fill="#fff"/>
<text x="1841.8" y="1221" font-size="25.4" text-anchor="middle">Sub 10</text>
<polyline points="90.8,1071.2 122.3,1031.1 153.8,1017.2 185.2,1015.9 216.7,1010.3 248.2,985.9 279.7,992.3 311.2,981.2 342.7,962.8 374.2,944.3 405.6,965.1 437.1,953.5" fill="none" stroke="#CE6B60" stroke-width="3.9" stroke-linejoin="round"/>
<path d="M90.8,1069.5V1073.2M122.3,1024.5V1037.9M153.8,1011.8V1023.2M185.2,1015.2V1016.7M216.7,1002.5V1017.9M248.2,982.2V989.5M279.7,973.7V1011.6M311.2,965.6V998.7M342.7,955.9V970.1M374.2,942.1V947.5M405.6,961.5V968.7M437.1,949.9V957.9" fill="none" stroke="#CE6B60" stroke-width="3.3"/>
<path d="M87.2,1068.5h7.2v3.6h-7.2zM87.2,1074.2h7.2v-3.6h-7.2zM118.7,1023.5h7.2v3.6h-7.2zM118.7,1038.9h7.2v-3.6h-7.2zM150.2,1010.8h7.2v3.6h-7.2zM150.2,1024.2h7.2v-3.6h-7.2zM181.6,1014.2h7.2v3.6h-7.2zM181.6,1017.7h7.2v-3.6h-7.2zM213.1,1001.5h7.2v3.6h-7.2zM213.1,1018.9h7.2v-3.6h-7.2zM244.6,981.2h7.2v3.6h-7.2zM244.6,990.5h7.2v-3.6h-7.2zM276.1,972.7h7.2v3.6h-7.2zM276.1,1012.6h7.2v-3.6h-7.2zM307.6,964.6h7.2v3.6h-7.2zM307.6,999.7h7.2v-3.6h-7.2zM339.1,954.9h7.2v3.6h-7.2zM339.1,971.1h7.2v-3.6h-7.2zM370.6,941.1h7.2v3.6h-7.2zM370.6,948.5h7.2v-3.6h-7.2zM402,960.5h7.2v3.6h-7.2zM402,969.7h7.2v-3.6h-7.2zM433.5,948.9h7.2v3.6h-7.2zM433.5,958.9h7.2v-3.6h-7.2z" fill="#CE6B60"/>
<polyline points="90.8,1288.8 122.3,1322.8 153.8,1340.3 185.2,1329.2 216.7,1325.1 248.2,1343.1 279.7,1360.4 311.2,1331.5 342.7,1366.6 374.2,1393.4 405.6,1386.9 437.1,1394.3" fill="none" stroke="#4A89C2" stroke-width="3.9" stroke-linejoin="round"/>
<path d="M90.8,1283.6V1293.6M122.3,1316.4V1330.5M153.8,1334.9V1346.2M185.2,1326.8V1332.4M216.7,1315.9V1334.7M248.2,1336V1350.2M279.7,1346.9V1374.4M311.2,1317.5V1343.2M342.7,1360.7V1373.2M374.2,1385.6V1403.2M405.6,1385.6V1388.7M437.1,1392.5V1396.3" fill="none" stroke="#4A89C2" stroke-width="3.3"/>
<path d="M87.2,1282.6h7.2v3.6h-7.2zM87.2,1294.6h7.2v-3.6h-7.2zM118.7,1315.4h7.2v3.6h-7.2zM118.7,1331.5h7.2v-3.6h-7.2zM150.2,1333.9h7.2v3.6h-7.2zM150.2,1347.2h7.2v-3.6h-7.2zM181.6,1325.8h7.2v3.6h-7.2zM181.6,1333.4h7.2v-3.6h-7.2zM213.1,1314.9h7.2v3.6h-7.2zM213.1,1335.7h7.2v-3.6h-7.2zM244.6,1335h7.2v3.6h-7.2zM244.6,1351.2h7.2v-3.6h-7.2zM276.1,1345.9h7.2v3.6h-7.2zM276.1,1375.4h7.2v-3.6h-7.2zM307.6,1316.5h7.2v3.6h-7.2zM307.6,1344.2h7.2v-3.6h-7.2zM339.1,1359.7h7.2v3.6h-7.2zM339.1,1374.2h7.2v-3.6h-7.2zM370.6,1384.6h7.2v3.6h-7.2zM370.6,1404.2h7.2v-3.6h-7.2zM402,1384.6h7.2v3.6h-7.2zM402,1389.7h7.2v-3.6h-7.2zM433.5,1391.5h7.2v3.6h-7.2zM433.5,1397.3h7.2v-3.6h-7.2z" fill="#4A89C2"/>
<polyline points="488.9,1060.4 520.4,1024.6 551.9,996.5 583.3,1010.3 614.8,1001.1 646.3,986.5 677.8,971.1 709.3,1008.5 740.8,971.5 772.2,978.5 803.7,957.7 835.2,956.5" fill="none" stroke="#CE6B60" stroke-width="3.9" stroke-linejoin="round"/>
<path d="M488.9,1050.5V1070.9M520.4,1023.3V1025.9M551.9,992.9V1000.1M583.3,1005.3V1015.5M614.8,999.1V1003.3M646.3,977.6V995.5M677.8,965.2V977M709.3,997.5V1020.2M740.8,962.2V980.9M772.2,976V980.9M803.7,954.5V960.9M835.2,953.6V959.5" fill="none" stroke="#CE6B60" stroke-width="3.3"/>
<path d="M485.3,1049.5h7.2v3.6h-7.2zM485.3,1071.9h7.2v-3.6h-7.2zM516.8,1022.3h7.2v3.6h-7.2zM516.8,1026.9h7.2v-3.6h-7.2zM548.3,991.9h7.2v3.6h-7.2zM548.3,1001.1h7.2v-3.6h-7.2zM579.7,1004.3h7.2v3.6h-7.2zM579.7,1016.5h7.2v-3.6h-7.2zM611.2,998.1h7.2v3.6h-7.2zM611.2,1004.3h7.2v-3.6h-7.2zM642.7,976.6h7.2v3.6h-7.2zM642.7,996.5h7.2v-3.6h-7.2zM674.2,964.2h7.2v3.6h-7.2zM674.2,978h7.2v-3.6h-7.2zM705.7,996.5h7.2v3.6h-7.2zM705.7,1021.2h7.2v-3.6h-7.2zM737.2,961.2h7.2v3.6h-7.2zM737.2,981.9h7.2v-3.6h-7.2zM768.6,975h7.2v3.6h-7.2zM768.6,981.9h7.2v-3.6h-7.2zM800.1,953.5h7.2v3.6h-7.2zM800.1,961.9h7.2v-3.6h-7.2zM831.6,952.6h7.2v3.6h-7.2zM831.6,960.5h7.2v-3.6h-7.2z" fill="#CE6B60"/>
<polyline points="488.9,1297.4 520.4,1313.5 551.9,1326.9 583.3,1324.6 614.8,1339.6 646.3,1366.6 677.8,1352.8 709.3,1381.2 740.8,1397.3 772.2,1398 803.7,1400.8 835.2,1405.9" fill="none" stroke="#4A89C2" stroke-width="3.9" stroke-linejoin="round"/>
<path d="M488.9,1296.8V1298.2M520.4,1310.6V1316.7M551.9,1321.5V1332.9M583.3,1318.7V1330.1M614.8,1336.7V1342.1M646.3,1364.4V1369.3M677.8,1351V1354.8M709.3,1379.9V1382.5M740.8,1390.7V1403.2M772.2,1396V1400.2M803.7,1397.6V1404.9M835.2,1404.1V1408.5" fill="none" stroke="#4A89C2" stroke-width="3.3"/>
<path d="M485.3,1295.8h7.2v3.6h-7.2zM485.3,1299.2h7.2v-3.6h-7.2zM516.8,1309.6h7.2v3.6h-7.2zM516.8,1317.7h7.2v-3.6h-7.2zM548.3,1320.5h7.2v3.6h-7.2zM548.3,1333.9h7.2v-3.6h-7.2zM579.7,1317.7h7.2v3.6h-7.2zM579.7,1331.1h7.2v-3.6h-7.2zM611.2,1335.7h7.2v3.6h-7.2zM611.2,1343.1h7.2v-3.6h-7.2zM642.7,1363.4h7.2v3.6h-7.2zM642.7,1370.3h7.2v-3.6h-7.2zM674.2,1350h7.2v3.6h-7.2zM674.2,1355.8h7.2v-3.6h-7.2zM705.7,1378.9h7.2v3.6h-7.2zM705.7,1383.5h7.2v-3.6h-7.2zM737.2,1389.7h7.2v3.6h-7.2zM737.2,1404.2h7.2v-3.6h-7.2zM768.6,1395h7.2v3.6h-7.2zM768.6,1401.2h7.2v-3.6h-7.2zM800.1,1396.6h7.2v3.6h-7.2zM800.1,1405.9h7.2v-3.6h-7.2zM831.6,1403.1h7.2v3.6h-7.2zM831.6,1409.5h7.2v-3.6h-7.2z" fill="#4A89C2"/>
<polyline points="887.8,1084.9 919.3,1084.5 950.8,1073.4 982.2,1065.8 1013.7,1074.3 1045.2,1061.2 1076.7,1055.9 1108.2,1061.2 1139.7,1061.2 1171.2,1065.1 1202.6,1045.7 1234.1,1043.2" fill="none" stroke="#CE6B60" stroke-width="3.9" stroke-linejoin="round"/>
<path d="M887.8,1079.5V1090.9M919.3,1077.2V1091.8M950.8,1072.5V1074.7M982.2,1065V1066.5M1013.7,1062.8V1085.5M1045.2,1055.9V1067.1M1076.7,1051.8V1060.8M1108.2,1049.9V1072.9M1139.7,1056.9V1065.5M1171.2,1056.9V1072.9M1202.6,1043.7V1047.9M1234.1,1040.7V1046.3" fill="none" stroke="#CE6B60" stroke-width="3.3"/>
<path d="M884.2,1078.5h7.2v3.6h-7.2zM884.2,1091.9h7.2v-3.6h-7.2zM915.7,1076.2h7.2v3.6h-7.2zM915.7,1092.8h7.2v-3.6h-7.2zM947.2,1071.5h7.2v3.6h-7.2zM947.2,1075.7h7.2v-3.6h-7.2zM978.6,1064h7.2v3.6h-7.2zM978.6,1067.5h7.2v-3.6h-7.2zM1010.1,1061.8h7.2v3.6h-7.2zM1010.1,1086.5h7.2v-3.6h-7.2zM1041.6,1054.9h7.2v3.6h-7.2zM1041.6,1068.1h7.2v-3.6h-7.2zM1073.1,1050.8h7.2v3.6h-7.2zM1073.1,1061.8h7.2v-3.6h-7.2zM1104.6,1048.9h7.2v3.6h-7.2zM1104.6,1073.9h7.2v-3.6h-7.2zM1136.1,1055.9h7.2v3.6h-7.2zM1136.1,1066.5h7.2v-3.6h-7.2zM1167.6,1055.9h7.2v3.6h-7.2zM1167.6,1073.9h7.2v-3.6h-7.2zM1199,1042.7h7.2v3.6h-7.2zM1199,1048.9h7.2v-3.6h-7.2zM1230.5,1039.7h7.2v3.6h-7.2zM1230.5,1047.3h7.2v-3.6h-7.2z" fill="#CE6B60"/>
<polyline points="887.8,1350.3 919.3,1350.8 950.8,1360.5 982.2,1381.9 1013.7,1375 1045.2,1369.7 1076.7,1388.9 1108.2,1372.7 1139.7,1384.2 1171.2,1372.7 1202.6,1371.1 1234.1,1391.2" fill="none" stroke="#4A89C2" stroke-width="3.9" stroke-linejoin="round"/>
<path d="M887.8,1345.3V1355.5M919.3,1342.5V1360.2M950.8,1357.5V1363.6M982.2,1381.5V1382.8M1013.7,1366.8V1383.9M1045.2,1364.5V1375.2M1076.7,1381.8V1397.1M1108.2,1364.5V1380.9M1139.7,1377.2V1391.3M1171.2,1362.9V1381.6M1202.6,1357.5V1383.9M1234.1,1383.6V1399.4" fill="none" stroke="#4A89C2" stroke-width="3.3"/>
<path d="M884.2,1344.3h7.2v3.6h-7.2zM884.2,1356.5h7.2v-3.6h-7.2zM915.7,1341.5h7.2v3.6h-7.2zM915.7,1361.2h7.2v-3.6h-7.2zM947.2,1356.5h7.2v3.6h-7.2zM947.2,1364.6h7.2v-3.6h-7.2zM978.6,1380.5h7.2v3.6h-7.2zM978.6,1383.8h7.2v-3.6h-7.2zM1010.1,1365.8h7.2v3.6h-7.2zM1010.1,1384.9h7.2v-3.6h-7.2zM1041.6,1363.5h7.2v3.6h-7.2zM1041.6,1376.2h7.2v-3.6h-7.2zM1073.1,1380.8h7.2v3.6h-7.2zM1073.1,1398.1h7.2v-3.6h-7.2zM1104.6,1363.5h7.2v3.6h-7.2zM1104.6,1381.9h7.2v-3.6h-7.2zM1136.1,1376.2h7.2v3.6h-7.2zM1136.1,1392.3h7.2v-3.6h-7.2zM1167.6,1361.9h7.2v3.6h-7.2zM1167.6,1382.6h7.2v-3.6h-7.2zM1199,1356.5h7.2v3.6h-7.2zM1199,1384.9h7.2v-3.6h-7.2zM1230.5,1382.6h7.2v3.6h-7.2zM1230.5,1400.4h7.2v-3.6h-7.2z" fill="#4A89C2"/>
<polyline points="1286.2,1148.1 1317.7,1125.7 1349.2,1095 1380.6,1094.3 1412.1,1099.6 1443.6,1113.5 1475.1,1075.4 1506.6,1086.9 1538.1,1074.2 1569.6,1086.5 1601,1068 1632.5,1062.7" fill="none" stroke="#CE6B60" stroke-width="3.9" stroke-linejoin="round"/>
<path d="M1286.2,1135.2V1163.2M1317.7,1119.1V1132.5M1349.2,1085.2V1106.2M1380.6,1087.5V1101.6M1412.1,1096V1103.2M1443.6,1109.9V1117.8M1475.1,1064.4V1088.2M1506.6,1068.3V1104.9M1538.1,1057.9V1091M1569.6,1069.5V1101.6M1601,1059.8V1076.7M1632.5,1051V1073.9" fill="none" stroke="#CE6B60" stroke-width="3.3"/>
<path d="M1282.6,1134.2h7.2v3.6h-7.2zM1282.6,1164.2h7.2v-3.6h-7.2zM1314.1,1118.1h7.2v3.6h-7.2zM1314.1,1133.5h7.2v-3.6h-7.2zM1345.6,1084.2h7.2v3.6h-7.2zM1345.6,1107.2h7.2v-3.6h-7.2zM1377,1086.5h7.2v3.6h-7.2zM1377,1102.6h7.2v-3.6h-7.2zM1408.5,1095h7.2v3.6h-7.2zM1408.5,1104.2h7.2v-3.6h-7.2zM1440,1108.9h7.2v3.6h-7.2zM1440,1118.8h7.2v-3.6h-7.2zM1471.5,1063.4h7.2v3.6h-7.2zM1471.5,1089.2h7.2v-3.6h-7.2zM1503,1067.3h7.2v3.6h-7.2zM1503,1105.9h7.2v-3.6h-7.2zM1534.5,1056.9h7.2v3.6h-7.2zM1534.5,1092h7.2v-3.6h-7.2zM1566,1068.5h7.2v3.6h-7.2zM1566,1102.6h7.2v-3.6h-7.2zM1597.4,1058.8h7.2v3.6h-7.2zM1597.4,1077.7h7.2v-3.6h-7.2zM1628.9,1050h7.2v3.6h-7.2zM1628.9,1074.9h7.2v-3.6h-7.2z" fill="#CE6B60"/>
<polyline points="1286.2,1284.2 1317.7,1328.1 1349.2,1326.5 1380.6,1365 1412.1,1341.9 1443.6,1356.5 1475.1,1380 1506.6,1385.8 1538.1,1419.2 1569.6,1376.5 1601,1413.5 1632.5,1408.9" fill="none" stroke="#4A89C2" stroke-width="3.9" stroke-linejoin="round"/>
<path d="M1286.2,1279.5V1288.5M1317.7,1322.2V1336.3M1349.2,1321V1331.7M1380.6,1360.2V1371.6M1412.1,1331.4V1353.2M1443.6,1348.7V1365.6M1475.1,1369V1392.9M1506.6,1379.9V1392.4M1538.1,1415.2V1424.7M1569.6,1360.7V1392.4M1601,1408.7V1419.4M1632.5,1405.9V1412.5" fill="none" stroke="#4A89C2" stroke-width="3.3"/>
<path d="M1282.6,1278.5h7.2v3.6h-7.2zM1282.6,1289.5h7.2v-3.6h-7.2zM1314.1,1321.2h7.2v3.6h-7.2zM1314.1,1337.3h7.2v-3.6h-7.2zM1345.6,1320h7.2v3.6h-7.2zM1345.6,1332.7h7.2v-3.6h-7.2zM1377,1359.2h7.2v3.6h-7.2zM1377,1372.6h7.2v-3.6h-7.2zM1408.5,1330.4h7.2v3.6h-7.2zM1408.5,1354.2h7.2v-3.6h-7.2zM1440,1347.7h7.2v3.6h-7.2zM1440,1366.6h7.2v-3.6h-7.2zM1471.5,1368h7.2v3.6h-7.2zM1471.5,1393.9h7.2v-3.6h-7.2zM1503,1378.9h7.2v3.6h-7.2zM1503,1393.4h7.2v-3.6h-7.2zM1534.5,1414.2h7.2v3.6h-7.2zM1534.5,1425.7h7.2v-3.6h-7.2zM1566,1359.7h7.2v3.6h-7.2zM1566,1393.4h7.2v-3.6h-7.2zM1597.4,1407.7h7.2v3.6h-7.2zM1597.4,1420.4h7.2v-3.6h-7.2zM1628.9,1404.9h7.2v3.6h-7.2zM1628.9,1413.5h7.2v-3.6h-7.2z" fill="#4A89C2"/>
<polyline points="1684.4,1037.3 1715.9,1066 1747.4,1009.9 1778.8,952.1 1810.3,949.8 1841.8,940.9 1873.3,935.9 1904.8,901 1936.3,918 1967.8,888.2 1999.2,868.7 2030.7,928.5" fill="none" stroke="#CE6B60" stroke-width="3.9" stroke-linejoin="round"/>
<path d="M1684.4,1032V1040.7M1715.9,1065V1067.7M1747.4,1005.8V1015M1778.8,949V957.8M1810.3,943.7V957.4M1841.8,934.7V947.7M1873.3,926.6V944.4M1904.8,895.2V907.4M1936.3,916.8V920.1M1967.8,884.7V892.8M1999.2,861.6V875.3M2030.7,913.2V944.8" fill="none" stroke="#CE6B60" stroke-width="3.3"/>
<path d="M1680.8,1031h7.2v3.6h-7.2zM1680.8,1041.7h7.2v-3.6h-7.2zM1712.3,1064h7.2v3.6h-7.2zM1712.3,1068.7h7.2v-3.6h-7.2zM1743.8,1004.8h7.2v3.6h-7.2zM1743.8,1016h7.2v-3.6h-7.2zM1775.2,948h7.2v3.6h-7.2zM1775.2,958.8h7.2v-3.6h-7.2zM1806.7,942.7h7.2v3.6h-7.2zM1806.7,958.4h7.2v-3.6h-7.2zM1838.2,933.7h7.2v3.6h-7.2zM1838.2,948.7h7.2v-3.6h-7.2zM1869.7,925.6h7.2v3.6h-7.2zM1869.7,945.4h7.2v-3.6h-7.2zM1901.2,894.2h7.2v3.6h-7.2zM1901.2,908.4h7.2v-3.6h-7.2zM1932.7,915.8h7.2v3.6h-7.2zM1932.7,921.1h7.2v-3.6h-7.2zM1964.2,883.7h7.2v3.6h-7.2zM1964.2,893.8h7.2v-3.6h-7.2zM1995.6,860.6h7.2v3.6h-7.2zM1995.6,876.3h7.2v-3.6h-7.2zM2027.1,912.2h7.2v3.6h-7.2zM2027.1,945.8h7.2v-3.6h-7.2z" fill="#CE6B60"/>
<polyline points="1684.4,1388.7 1715.9,1414.9 1747.4,1404.8 1778.8,1431.3 1810.3,1435.1 1841.8,1465.4 1873.3,1462 1904.8,1482.2 1936.3,1478.4 1967.8,1479.9 1999.2,1473.2 2030.7,1473.2" fill="none" stroke="#4A89C2" stroke-width="3.9" stroke-linejoin="round"/>
<path d="M1684.4,1385.2V1392.2M1715.9,1409.9V1421.3M1747.4,1400.2V1410.1M1778.8,1427.8V1435.2M1810.3,1430.9V1440.1M1841.8,1460.8V1472.2M1873.3,1446.2V1477.4M1904.8,1476.4V1488.6M1936.3,1470.4V1486.8M1967.8,1473.5V1485.7M1999.2,1466.8V1477.8M2030.7,1459.6V1486.8" fill="none" stroke="#4A89C2" stroke-width="3.3"/>
<path d="M1680.8,1384.2h7.2v3.6h-7.2zM1680.8,1393.2h7.2v-3.6h-7.2zM1712.3,1408.9h7.2v3.6h-7.2zM1712.3,1422.3h7.2v-3.6h-7.2zM1743.8,1399.2h7.2v3.6h-7.2zM1743.8,1411.1h7.2v-3.6h-7.2zM1775.2,1426.8h7.2v3.6h-7.2zM1775.2,1436.2h7.2v-3.6h-7.2zM1806.7,1429.9h7.2v3.6h-7.2zM1806.7,1441.1h7.2v-3.6h-7.2zM1838.2,1459.8h7.2v3.6h-7.2zM1838.2,1473.2h7.2v-3.6h-7.2zM1869.7,1445.2h7.2v3.6h-7.2zM1869.7,1478.4h7.2v-3.6h-7.2zM1901.2,1475.4h7.2v3.6h-7.2zM1901.2,1489.6h7.2v-3.6h-7.2zM1932.7,1469.4h7.2v3.6h-7.2zM1932.7,1487.8h7.2v-3.6h-7.2zM1964.2,1472.5h7.2v3.6h-7.2zM1964.2,1486.7h7.2v-3.6h-7.2zM1995.6,1465.8h7.2v3.6h-7.2zM1995.6,1478.8h7.2v-3.6h-7.2zM2027.1,1458.6h7.2v3.6h-7.2zM2027.1,1487.8h7.2v-3.6h-7.2z" fill="#4A89C2"/>
<line x1="59.5" y1="820.5" x2="59.5" y2="1501" stroke="#828387" stroke-width="3.5"/>
<path d="M58,821.5H2047V1509" fill="none" stroke="#4B4B4D" stroke-width="2.2"/>
<line x1="59" y1="987" x2="77" y2="987" stroke="#828387" stroke-width="3.4"/>
<text x="51" y="997.7" font-size="25.4" text-anchor="end">50</text>
<line x1="59" y1="1210.8" x2="77" y2="1210.8" stroke="#828387" stroke-width="3.4"/>
<text x="51" y="1221.8" font-size="25.4" text-anchor="end">0</text>
<line x1="59" y1="1428.9" x2="77" y2="1428.9" stroke="#828387" stroke-width="3.4"/>
<text x="51" y="1438.1" font-size="25.4" text-anchor="end">-50</text>
<path d="M59.3,1509H437.1M59.3,1509V1499.5M122.3,1509V1499.5M185.2,1509V1499.5M248.2,1509V1499.5M311.2,1509V1499.5M374.2,1509V1499.5M437.1,1509V1499.5" fill="none" stroke="#4B4B4D" stroke-width="2"/>
<text x="63" y="1538.8" font-size="25.4" text-anchor="middle">0</text>
<text x="124" y="1538.8" font-size="25.4" text-anchor="middle">1</text>
<text x="182.9" y="1538.8" font-size="25.4" text-anchor="middle">2</text>
<text x="245.9" y="1538.8" font-size="25.4" text-anchor="middle">3</text>
<text x="308.9" y="1538.8" font-size="25.4" text-anchor="middle">4</text>
<text x="371.9" y="1538.8" font-size="25.4" text-anchor="middle">5</text>
<text x="434.8" y="1538.8" font-size="25.4" text-anchor="middle">6</text>
<path d="M457.4,1509H835.2M457.4,1509V1499.5M520.4,1509V1499.5M583.3,1509V1499.5M646.3,1509V1499.5M709.3,1509V1499.5M772.2,1509V1499.5M835.2,1509V1499.5" fill="none" stroke="#4B4B4D" stroke-width="2"/>
<text x="459.7" y="1538.8" font-size="25.4" text-anchor="middle">0</text>
<text x="522.1" y="1538.8" font-size="25.4" text-anchor="middle">1</text>
<text x="581" y="1538.8" font-size="25.4" text-anchor="middle">2</text>
<text x="644" y="1538.8" font-size="25.4" text-anchor="middle">3</text>
<text x="707" y="1538.8" font-size="25.4" text-anchor="middle">4</text>
<text x="770" y="1538.8" font-size="25.4" text-anchor="middle">5</text>
<text x="832.9" y="1538.8" font-size="25.4" text-anchor="middle">6</text>
<path d="M856.3,1509H1234.1M856.3,1509V1499.5M919.3,1509V1499.5M982.2,1509V1499.5M1045.2,1509V1499.5M1108.2,1509V1499.5M1171.2,1509V1499.5M1234.1,1509V1499.5" fill="none" stroke="#4B4B4D" stroke-width="2"/>
<text x="858.6" y="1538.8" font-size="25.4" text-anchor="middle">0</text>
<text x="921" y="1538.8" font-size="25.4" text-anchor="middle">1</text>
<text x="979.9" y="1538.8" font-size="25.4" text-anchor="middle">2</text>
<text x="1042.9" y="1538.8" font-size="25.4" text-anchor="middle">3</text>
<text x="1105.9" y="1538.8" font-size="25.4" text-anchor="middle">4</text>
<text x="1168.9" y="1538.8" font-size="25.4" text-anchor="middle">5</text>
<text x="1231.8" y="1538.8" font-size="25.4" text-anchor="middle">6</text>
<path d="M1254.7,1509H1632.5M1254.7,1509V1499.5M1317.7,1509V1499.5M1380.6,1509V1499.5M1443.6,1509V1499.5M1506.6,1509V1499.5M1569.6,1509V1499.5M1632.5,1509V1499.5" fill="none" stroke="#4B4B4D" stroke-width="2"/>
<text x="1257" y="1538.8" font-size="25.4" text-anchor="middle">0</text>
<text x="1319.4" y="1538.8" font-size="25.4" text-anchor="middle">1</text>
<text x="1378.3" y="1538.8" font-size="25.4" text-anchor="middle">2</text>
<text x="1441.3" y="1538.8" font-size="25.4" text-anchor="middle">3</text>
<text x="1504.3" y="1538.8" font-size="25.4" text-anchor="middle">4</text>
<text x="1567.3" y="1538.8" font-size="25.4" text-anchor="middle">5</text>
<text x="1630.2" y="1538.8" font-size="25.4" text-anchor="middle">6</text>
<path d="M1652.9,1509H2047M1652.9,1509V1499.5M1715.9,1509V1499.5M1778.8,1509V1499.5M1841.8,1509V1499.5M1904.8,1509V1499.5M1967.8,1509V1499.5M2030.7,1509V1499.5" fill="none" stroke="#4B4B4D" stroke-width="2"/>
<text x="1655.2" y="1538.8" font-size="25.4" text-anchor="middle">0</text>
<text x="1717.6" y="1538.8" font-size="25.4" text-anchor="middle">1</text>
<text x="1776.5" y="1538.8" font-size="25.4" text-anchor="middle">2</text>
<text x="1839.5" y="1538.8" font-size="25.4" text-anchor="middle">3</text>
<text x="1902.5" y="1538.8" font-size="25.4" text-anchor="middle">4</text>
<text x="1965.5" y="1538.8" font-size="25.4" text-anchor="middle">5</text>
<text x="2028.4" y="1538.8" font-size="25.4" text-anchor="middle">6</text>
<text x="1068.6" y="1574.6" font-size="25.4" text-anchor="middle">Week</text>
<line x1="96.3" y1="888.9" x2="173.2" y2="888.9" stroke="#D86C60" stroke-width="4"/>
<text x="187.6" y="896.7" font-size="25.4">Quadriceps</text>
<line x1="96.3" y1="1474.5" x2="173.2" y2="1474.5" stroke="#4A8BCA" stroke-width="4"/>
<text x="188" y="1482.7" font-size="25.4">Hamstrings</text>
<text transform="translate(19.4,1215.3) rotate(-90)" font-size="25.4" text-anchor="middle">Maximum Torque (N&#183;m)</text>
<text x="9" y="22.5" font-size="28" font-weight="bold">a</text>
<defs><linearGradient id="bone" x1="0" y1="0" x2="0" y2="1"><stop offset="0" stop-color="#F7F5F1"/><stop offset="0.5" stop-color="#DDD9D3"/><stop offset="1" stop-color="#ADABA8"/></linearGradient><linearGradient id="gmus" x1="0" y1="0" x2="0" y2="1"><stop offset="0" stop-color="#DEDCD7"/><stop offset="1" stop-color="#C9C1CC"/></linearGradient><clipPath id="cpb"><rect x="80" y="1627" width="769" height="597.5"/></clipPath><clipPath id="cpc"><rect x="903.7" y="1627.3" width="789" height="597"/></clipPath></defs>
<rect x="80" y="1627" width="382.7" height="597.5" fill="#F0F0F0"/>
<line x1="80" y1="1968.7" x2="849" y2="1968.7" stroke="#808184" stroke-width="3.6" stroke-dasharray="22 14.67" stroke-dashoffset="10.5"/>
<path d="M80.4,1955.3C83,1952.7 91.5,1945.2 96.1,1939.6C100.7,1933.9 104.2,1928.2 108.2,1921.4C112.2,1914.6 116.3,1906.2 120.3,1898.5C124.3,1890.8 128.4,1882.8 132.4,1875.5C136.4,1868.2 140.5,1861 144.5,1854.9C148.5,1848.9 152.6,1844 156.6,1839.2C160.6,1834.4 164.7,1829.7 168.7,1825.9C172.7,1822.1 176.7,1819.3 180.7,1816.3C184.7,1813.3 188.8,1810.2 192.8,1807.8C196.8,1805.4 199.9,1803.8 204.9,1801.8C209.9,1799.8 216.9,1797.2 223,1795.7C229.1,1794.2 235.1,1793.3 241.2,1792.7C247.2,1792.1 253.3,1792 259.3,1792.1C265.3,1792.2 272.3,1792.8 277.4,1793.3C282.5,1793.8 284.6,1793.9 290,1795.3C295.4,1796.7 303.2,1799.1 309.8,1801.8C316.4,1804.5 323,1808.3 329.6,1811.6C336.2,1814.9 342.7,1817.9 349.3,1821.5C355.9,1825.1 362.5,1829.6 369.1,1833.4C375.7,1837.2 382.3,1840.5 388.9,1844.3C395.5,1848.1 402.1,1851.8 408.7,1856.2C415.3,1860.7 421.9,1865.6 428.5,1871C435.1,1876.4 441.9,1882.9 448.2,1888.8C454.5,1894.7 463.4,1903.6 466.5,1906.6L459.1,1957C457.3,1955.2 453.3,1951 448.2,1946.2C443.1,1941.4 435.1,1933.9 428.5,1928.3C421.9,1922.7 415.3,1917.3 408.7,1912.5C402.1,1907.7 395.5,1903.5 388.9,1899.7C382.3,1895.9 375.7,1892.6 369.1,1889.8C362.5,1887 355.9,1884.6 349.3,1882.9C342.7,1881.2 336.2,1880.3 329.6,1879.4C323,1878.5 316.4,1878.2 309.8,1877.4C303.2,1876.7 294.4,1875.4 290,1874.9C285.6,1874.4 287.6,1874.5 283.5,1874.3C279.4,1874 270.4,1873.4 265.4,1873.4C260.4,1873.4 258.4,1873.7 253.3,1874.3C248.2,1874.9 241.2,1875.9 235.1,1877.3C229,1878.7 223,1880.4 217,1882.7C211,1885 205,1888 198.9,1891.2C192.8,1894.4 186.8,1898.3 180.7,1902.1C174.6,1905.9 168.6,1910 162.6,1914.2C156.6,1918.4 150.5,1923.3 144.5,1927.5C138.5,1931.7 132.5,1935.2 126.4,1939.6C120.4,1944 113.2,1949.7 108.2,1954.1C103.2,1958.5 100.7,1961.1 96.1,1966.1C91.5,1971.1 83,1981.3 80.4,1984.3Z" fill="#D8684F" fill-opacity="0.5" clip-path="url(#cpb)"/>
<path d="M466,1905.4C468.8,1908.2 477,1916.4 482.5,1921.9C488,1927.4 493.5,1933.2 499,1938.4C504.5,1943.6 509.9,1948.5 515.4,1953.2C520.9,1958 526.4,1962.6 531.9,1966.9C537.4,1971.2 542.9,1975.3 548.4,1979C553.9,1982.7 559.4,1985.7 564.9,1988.9C570.4,1992.1 575.9,1995.3 581.4,1998.2C586.9,2001.1 592.4,2004.1 597.9,2006.5C603.4,2008.9 608.8,2010.9 614.3,2012.5C619.8,2014.1 624.8,2015.4 630.8,2016.2C636.8,2017 643,2017.3 650,2017.3C657,2017.3 665,2016.8 672.5,2016.2C680,2015.6 687.6,2014.9 695.1,2013.9C702.6,2013 710.1,2011.8 717.6,2010.5C725.1,2009.2 732.6,2007.8 740.1,2006C747.6,2004.2 755.1,2002.1 762.6,1999.8C770.1,1997.5 777.7,1994.8 785.2,1992C792.7,1989.2 801.1,1985.7 807.7,1982.9C814.3,1980.1 819.9,1977.8 824.6,1975.2C829.3,1972.6 831.5,1970.5 835.9,1967.2C840.3,1963.9 848.5,1957.5 851,1955.5L851,1986C847.5,1989.4 837.4,1999.6 830.2,2006.6C823,2013.6 815.2,2020.9 807.7,2028C800.2,2035.1 792.7,2042.8 785.2,2049.4C777.7,2056 770.1,2062.2 762.6,2067.4C755.1,2072.7 747.6,2077 740.1,2080.9C732.6,2084.8 725.1,2088.3 717.6,2091.1C710.1,2093.9 702.6,2096 695.1,2097.8C687.6,2099.6 680,2100.9 672.5,2101.8C665,2102.8 656,2103.4 650,2103.5C644,2103.6 641.3,2103.2 636.3,2102.6C631.3,2102 625.3,2101.2 619.8,2099.9C614.3,2098.6 608.9,2096.9 603.4,2094.9C597.9,2092.9 592.4,2090.6 586.9,2087.8C581.4,2085 575.9,2081.8 570.4,2077.9C564.9,2074.1 559.4,2069.5 553.9,2064.7C548.4,2059.9 542.9,2054.6 537.4,2049.3C531.9,2044 526.4,2038.8 520.9,2032.9C515.4,2027.1 510,2020.7 504.5,2014.2C499,2007.7 493.5,2000.8 488,1993.8C482.5,1986.8 476.3,1978.5 471.5,1972.4C466.7,1966.3 461.4,1959.6 459.4,1957Z" fill="#5B8BD0" fill-opacity="0.55" clip-path="url(#cpb)"/>
<path d="M78.5,1971C79,1970.6 78.7,1971.8 81.6,1968.6C84.5,1965.4 90.6,1958.2 96.1,1951.6C101.5,1944.9 108.2,1936.3 114.3,1928.7C120.3,1921.1 126.4,1913 132.4,1905.7C138.4,1898.5 144.4,1891.7 150.5,1885.2C156.6,1878.8 162.6,1872.2 168.7,1867C174.8,1861.8 180.8,1857.6 186.8,1853.7C192.8,1849.8 198.9,1846.3 204.9,1843.5C210.9,1840.7 216.9,1838.4 223,1836.8C229.1,1835.2 235.1,1834.5 241.2,1833.8C247.2,1833.1 253.3,1832.8 259.3,1832.8C265.3,1832.8 272.3,1833.5 277.4,1833.8C282.5,1834.1 284.6,1833.6 290,1834.4C295.4,1835.2 303.2,1836.8 309.8,1838.4C316.4,1840.1 323,1842.2 329.6,1844.3C336.2,1846.4 342.7,1848.4 349.3,1851.2C355.9,1854 362.5,1857.5 369.1,1861.1C375.7,1864.6 382.3,1868.5 388.9,1872.5C395.5,1876.5 402.1,1880.3 408.7,1884.8C415.3,1889.3 421.9,1894.2 428.5,1899.7C435.1,1905.2 442.4,1912.2 448.2,1917.5C454,1922.8 460.6,1929 463.1,1931.3" fill="none" stroke="#DB6E62" stroke-width="7" clip-path="url(#cpb)"/>
<path d="M463.2,1931.2C465.5,1933.7 471.9,1940.6 477,1946C482.1,1951.4 488,1957.7 493.5,1963.6C499,1969.5 504.5,1975.6 510,1981.2C515.5,1986.8 520.9,1992.1 526.4,1997.1C531.9,2002 537.4,2006.5 542.9,2010.9C548.4,2015.3 553.9,2019.5 559.4,2023.5C564.9,2027.5 570.4,2031.6 575.9,2035.1C581.4,2038.6 586.9,2041.7 592.4,2044.4C597.9,2047.1 603.3,2049.5 608.8,2051.5C614.3,2053.5 619.8,2055.2 625.3,2056.5C630.8,2057.8 636.8,2058.6 641.8,2059.2C646.8,2059.8 649.9,2060.3 655,2060.2C660.1,2060.1 665.8,2059.3 672.5,2058.4C679.2,2057.5 687.6,2056.2 695.1,2054.5C702.6,2052.8 710.1,2050.7 717.6,2048.3C725.1,2046 732.6,2043.4 740.1,2040.4C747.6,2037.4 755.1,2034.1 762.6,2030.2C770.1,2026.3 777.7,2022 785.2,2017.3C792.7,2012.6 800.2,2007.3 807.7,2002.1C815.2,1996.9 823,1991.3 830.2,1986.3C837.4,1981.3 847.5,1974.4 851,1972" fill="none" stroke="#4A8ECB" stroke-width="7" clip-path="url(#cpb)"/>
<g transform="translate(175.4,2021)"><path d="M0,3.6C4,3.1 14.2,1.3 23.8,0.8C33.4,0.3 47.4,0 57.7,0.8C68,1.6 76.9,4.1 85.4,5.4C93.9,6.7 102.7,8 108.5,8.8C114.3,9.6 117.5,9.7 120.5,10.3C123.5,10.9 124.7,11.4 126.5,12.6C128.3,13.8 130.1,15.6 131.5,17.5C132.9,19.4 133.6,20.9 135.2,24.3C136.8,27.7 138.3,31.9 140.8,37.7C143.3,43.5 146.9,51.5 150,59.2C153.1,66.9 156.4,75.6 159.2,83.8C162,92 165.1,102.8 166.9,108.5C168.7,114.2 168.8,115.4 170.2,118.2C171.6,121 173,123.5 175.5,125.6C178,127.7 179.9,129.5 185.4,130.6C190.9,131.7 201.6,132.2 208.5,132.3C215.4,132.4 223.2,131.1 226.9,131.2C230.6,131.3 230.5,132.3 230.8,133.1C231.1,133.9 232.2,134.5 228.5,136.2C224.8,137.9 215.2,141 208.5,143.1C201.8,145.2 193.6,146.6 188.5,148.5C183.4,150.4 181.3,152.9 177.7,154.6C174.1,156.3 169.8,158.3 166.9,158.5C164,158.7 162.1,158.1 160.2,155.6C158.3,153.1 157.3,147.4 155.6,143.3C153.9,139.2 152.7,135.6 150,130.8C147.3,126 143.6,120.9 139.2,114.6C134.8,108.3 127.6,99 123.8,93.1C120,87.2 118.1,83.8 116.2,79.2C114.3,74.6 113.3,69.6 112.3,65.4C111.3,61.3 111,56.8 110.3,54.3C109.5,51.8 108.8,51.1 107.8,50.3C106.8,49.4 107.7,49 104,49.2C100.3,49.4 93.6,50.6 85.4,51.5C77.2,52.4 64.4,53.8 54.6,54.6C44.9,55.4 34.6,56.2 26.9,56.5C19.2,56.8 13,56.5 8.5,56.2C4,55.9 1.4,54.9 0,54.6Z" fill="#F8E6D1"/><path d="M0,3.6C4,3.1 14.2,1.3 23.8,0.8C33.4,0.3 47.4,0 57.7,0.8C68,1.6 76.9,4.1 85.4,5.4C93.9,6.7 102.7,8 108.5,8.8C114.3,9.6 117.5,9.7 120.5,10.3C123.5,10.9 124.7,11.4 126.5,12.6C128.3,13.8 130.1,15.6 131.5,17.5C132.9,19.4 133.6,20.9 135.2,24.3C136.8,27.7 138.3,31.9 140.8,37.7C143.3,43.5 146.9,51.5 150,59.2C153.1,66.9 156.4,75.6 159.2,83.8C162,92 165.1,102.8 166.9,108.5C168.7,114.2 168.8,115.4 170.2,118.2C171.6,121 173,123.5 175.5,125.6C178,127.7 179.9,129.5 185.4,130.6C190.9,131.7 201.6,132.2 208.5,132.3C215.4,132.4 223.2,131.1 226.9,131.2C230.6,131.3 230.5,132.3 230.8,133.1C231.1,133.9 232.2,134.5 228.5,136.2C224.8,137.9 215.2,141 208.5,143.1C201.8,145.2 193.6,146.6 188.5,148.5C183.4,150.4 181.3,152.9 177.7,154.6C174.1,156.3 169.8,158.3 166.9,158.5C164,158.7 162.1,158.1 160.2,155.6C158.3,153.1 157.3,147.4 155.6,143.3C153.9,139.2 152.7,135.6 150,130.8C147.3,126 143.6,120.9 139.2,114.6C134.8,108.3 127.6,99 123.8,93.1C120,87.2 118.1,83.8 116.2,79.2C114.3,74.6 113.3,69.6 112.3,65.4C111.3,61.3 111,56.8 110.3,54.3C109.5,51.8 108.8,51.1 107.8,50.3C106.8,49.4 107.7,49 104,49.2C100.3,49.4 93.6,50.6 85.4,51.5C77.2,52.4 64.4,53.8 54.6,54.6C44.9,55.4 34.6,56.2 26.9,56.5C19.2,56.8 13,56.5 8.5,56.2C4,55.9 1.4,54.9 0,54.6" fill="none" stroke="#2e2a28" stroke-width="0.9" vector-effect="non-scaling-stroke"/><path d="M6.7,16.9C25,1 72,-4 101,17.3C78,28 30,29 6.7,16.9Z" fill="#DC6B60"/><path d="M6.5,24.2C9,23.6 12,24.6 14,25.2L104,25.2C106,22.6 110,22 114,22.2C119,22.6 122,25.5 122,30L122,39.5C122,42.5 119.5,44 116.5,44C113,44 110.5,42 110.5,38.5L110.5,36.2L14,36.2C12,36.8 9,37.8 6.5,37.2C3.5,36.6 2.4,33.5 2.4,30.7C2.4,27.5 3.8,24.7 6.5,24.2Z" fill="url(#bone)"/><path d="M22.3,40.3C40,36 80,35.5 98.5,39.2C80,44.5 40,47.5 22.3,40.3Z" fill="url(#gmus)"/><path d="M125.3,126.1Q160,137 174.5,104" fill="none" stroke="#5f5a57" stroke-width="3"/><path d="M176,79.7L186.9,106.3L176,100.2L164.7,106.1Z" fill="#5f5a57"/></g>
<g transform="translate(545.4,1787) scale(0.94,0.965)"><path d="M0,3.6C4,3.1 14.2,1.3 23.8,0.8C33.4,0.3 47.4,0 57.7,0.8C68,1.6 76.9,4.1 85.4,5.4C93.9,6.7 102.7,8 108.5,8.8C114.3,9.6 117.5,9.7 120.5,10.3C123.5,10.9 124.7,11.4 126.5,12.6C128.3,13.8 130.1,15.6 131.5,17.5C132.9,19.4 133.6,20.9 135.2,24.3C136.8,27.7 138.3,31.9 140.8,37.7C143.3,43.5 146.9,51.5 150,59.2C153.1,66.9 156.4,75.6 159.2,83.8C162,92 165.1,102.8 166.9,108.5C168.7,114.2 168.8,115.4 170.2,118.2C171.6,121 173,123.5 175.5,125.6C178,127.7 179.9,129.5 185.4,130.6C190.9,131.7 201.6,132.2 208.5,132.3C215.4,132.4 223.2,131.1 226.9,131.2C230.6,131.3 230.5,132.3 230.8,133.1C231.1,133.9 232.2,134.5 228.5,136.2C224.8,137.9 215.2,141 208.5,143.1C201.8,145.2 193.6,146.6 188.5,148.5C183.4,150.4 181.3,152.9 177.7,154.6C174.1,156.3 169.8,158.3 166.9,158.5C164,158.7 162.1,158.1 160.2,155.6C158.3,153.1 157.3,147.4 155.6,143.3C153.9,139.2 152.7,135.6 150,130.8C147.3,126 143.6,120.9 139.2,114.6C134.8,108.3 127.6,99 123.8,93.1C120,87.2 118.1,83.8 116.2,79.2C114.3,74.6 113.3,69.6 112.3,65.4C111.3,61.3 111,56.8 110.3,54.3C109.5,51.8 108.8,51.1 107.8,50.3C106.8,49.4 107.7,49 104,49.2C100.3,49.4 93.6,50.6 85.4,51.5C77.2,52.4 64.4,53.8 54.6,54.6C44.9,55.4 34.6,56.2 26.9,56.5C19.2,56.8 13,56.5 8.5,56.2C4,55.9 1.4,54.9 0,54.6Z" fill="#F8E6D1"/><path d="M0,3.6C4,3.1 14.2,1.3 23.8,0.8C33.4,0.3 47.4,0 57.7,0.8C68,1.6 76.9,4.1 85.4,5.4C93.9,6.7 102.7,8 108.5,8.8C114.3,9.6 117.5,9.7 120.5,10.3C123.5,10.9 124.7,11.4 126.5,12.6C128.3,13.8 130.1,15.6 131.5,17.5C132.9,19.4 133.6,20.9 135.2,24.3C136.8,27.7 138.3,31.9 140.8,37.7C143.3,43.5 146.9,51.5 150,59.2C153.1,66.9 156.4,75.6 159.2,83.8C162,92 165.1,102.8 166.9,108.5C168.7,114.2 168.8,115.4 170.2,118.2C171.6,121 173,123.5 175.5,125.6C178,127.7 179.9,129.5 185.4,130.6C190.9,131.7 201.6,132.2 208.5,132.3C215.4,132.4 223.2,131.1 226.9,131.2C230.6,131.3 230.5,132.3 230.8,133.1C231.1,133.9 232.2,134.5 228.5,136.2C224.8,137.9 215.2,141 208.5,143.1C201.8,145.2 193.6,146.6 188.5,148.5C183.4,150.4 181.3,152.9 177.7,154.6C174.1,156.3 169.8,158.3 166.9,158.5C164,158.7 162.1,158.1 160.2,155.6C158.3,153.1 157.3,147.4 155.6,143.3C153.9,139.2 152.7,135.6 150,130.8C147.3,126 143.6,120.9 139.2,114.6C134.8,108.3 127.6,99 123.8,93.1C120,87.2 118.1,83.8 116.2,79.2C114.3,74.6 113.3,69.6 112.3,65.4C111.3,61.3 111,56.8 110.3,54.3C109.5,51.8 108.8,51.1 107.8,50.3C106.8,49.4 107.7,49 104,49.2C100.3,49.4 93.6,50.6 85.4,51.5C77.2,52.4 64.4,53.8 54.6,54.6C44.9,55.4 34.6,56.2 26.9,56.5C19.2,56.8 13,56.5 8.5,56.2C4,55.9 1.4,54.9 0,54.6" fill="none" stroke="#2e2a28" stroke-width="0.9" vector-effect="non-scaling-stroke"/><path d="M15.5,15.8C35,10.8 80,10.5 100.6,14.5C82,20.5 40,22.5 15.5,15.8Z" fill="url(#gmus)"/><g transform="translate(0,-3)"><path d="M6.5,24.2C9,23.6 12,24.6 14,25.2L104,25.2C106,22.6 110,22 114,22.2C119,22.6 122,25.5 122,30L122,39.5C122,42.5 119.5,44 116.5,44C113,44 110.5,42 110.5,38.5L110.5,36.2L14,36.2C12,36.8 9,37.8 6.5,37.2C3.5,36.6 2.4,33.5 2.4,30.7C2.4,27.5 3.8,24.7 6.5,24.2Z" fill="url(#bone)"/></g><path d="M101.4,37.2C80,33.5 45,32.5 30,34.5C20,36 16.5,41 17.8,45.3C19.5,52 32,56 44.4,54.9C62,53 82,45 101.4,37.2Z" fill="#4A8ECB"/></g><path d="M700,1859.3C703,1875 700,1900 674,1906.5" fill="none" stroke="#5f5a57" stroke-width="3"/><path d="M651.1,1905.7L677.3,1896.9L671.5,1907.2L676.6,1918.5Z" fill="#5f5a57"/>
<rect x="80" y="1627" width="768.8" height="597.4" fill="none" stroke="#808285" stroke-width="2"/>
<line x1="80" y1="1797.3" x2="93.5" y2="1797.3" stroke="#808285" stroke-width="2.8"/>
<line x1="80" y1="2139.2" x2="93.5" y2="2139.2" stroke="#808285" stroke-width="2.8"/>
<line x1="462.7" y1="2224" x2="462.7" y2="2215" stroke="#808285" stroke-width="2"/>
<text x="66.2" y="1643.7" font-size="25.4" text-anchor="end">80</text>
<text x="65.5" y="1810.7" font-size="25.4" text-anchor="end">40</text>
<text x="65.5" y="1981" font-size="25.4" text-anchor="end">0</text>
<text x="65.5" y="2153" font-size="25.4" text-anchor="end">-40</text>
<text transform="translate(31,1992) rotate(-90)" font-size="25.4" text-anchor="middle">Torque (N&#183;m)</text>
<text x="62" y="2259" font-size="25.4" text-anchor="middle">0</text>
<text x="462.8" y="2259.3" font-size="25.4" text-anchor="middle">50%</text>
<text x="810.4" y="2259.3" font-size="25.4" text-anchor="middle">100%</text>
<text x="456.9" y="2293.6" font-size="25.4" text-anchor="middle">Repetition</text>
<text x="721.5" y="1668.7" font-size="25.4">Week 1</text>
<text x="205" y="1713.9" font-size="25.4">Quadriceps</text>
<text x="574" y="1714" font-size="25.4">Hamstrings</text>
<text x="211.7" y="2211.9" font-size="25.4">Lift</text>
<text x="588.3" y="2211.9" font-size="25.4">Retract</text>
<text x="6.6" y="1637.9" font-size="27" font-weight="bold">b</text>
<rect x="903.7" y="1627.3" width="391.3" height="597" fill="#F0F0F0"/>
<line x1="903.7" y1="1968.8" x2="1692.8" y2="1968.8" stroke="#808184" stroke-width="3.6" stroke-dasharray="22.5 14.69" stroke-dashoffset="9.4"/>
<path d="M903.3,1952.8C905.5,1947.2 911.6,1933.1 916.6,1919.5C921.6,1905.9 927.8,1889 933.3,1871.3C938.8,1853.6 944.3,1831.1 949.9,1813.1C955.5,1795.1 961,1777 966.6,1763.1C972.2,1749.2 977.7,1739.6 983.2,1729.9C988.7,1720.2 994.2,1711.7 999.8,1704.9C1005.3,1698.1 1011,1693.7 1016.5,1689.1C1022,1684.5 1027.5,1680.5 1033.1,1677.5C1038.6,1674.5 1045.1,1672.6 1049.8,1670.8C1054.5,1669 1057.2,1667.3 1061.4,1666.6C1065.6,1665.9 1069.7,1666.2 1074.7,1666.6C1079.7,1667 1087.1,1668.1 1091.3,1669.1C1095.5,1670.1 1096.3,1670.3 1099.7,1672.5C1103.1,1674.7 1106.8,1679.2 1111.6,1682.4C1116.4,1685.6 1122.8,1688.4 1128.3,1691.6C1133.8,1694.8 1139.4,1697.2 1144.9,1701.6C1150.5,1706 1156,1713.5 1161.6,1718.2C1167.1,1722.9 1172.7,1725.7 1178.2,1729.9C1183.7,1734.1 1189.2,1738.8 1194.8,1743.2C1200.3,1747.6 1206,1752.6 1211.5,1756.5C1217,1760.4 1222.5,1762.1 1228.1,1766.5C1233.6,1770.9 1239.2,1777 1244.8,1783.1C1250.3,1789.2 1255.9,1795.9 1261.4,1803.1C1266.9,1810.3 1272.2,1817.9 1278,1826.4C1283.8,1834.9 1293.2,1849.4 1296.2,1854L1294,1988C1291.3,1982.4 1283.4,1965.1 1278,1954.5C1272.6,1943.9 1266.9,1933.7 1261.4,1924.5C1255.9,1915.3 1250.3,1907.3 1244.8,1899.6C1239.2,1891.8 1233.6,1884.9 1228.1,1878C1222.5,1871.1 1217,1864.1 1211.5,1858C1206,1851.9 1200.3,1846.7 1194.8,1841.4C1189.2,1836.1 1183.7,1831 1178.2,1826.4C1172.7,1821.8 1167.1,1817.4 1161.6,1813.9C1156,1810.4 1150.5,1807.8 1144.9,1805.6C1139.4,1803.4 1133.8,1801.8 1128.3,1800.6C1122.8,1799.3 1116.4,1798.8 1111.6,1798.1C1106.8,1797.4 1104.5,1796.7 1099.7,1796.4C1094.9,1796.1 1088.5,1796.1 1083,1796.4C1077.5,1796.7 1071.9,1797.3 1066.4,1798.1C1060.9,1798.9 1055.3,1799.9 1049.8,1801.4C1044.2,1802.9 1038.6,1804.4 1033.1,1807.2C1027.5,1810 1022,1813.5 1016.5,1818.1C1011,1822.7 1005.3,1828 999.8,1834.7C994.2,1841.4 988.7,1849.4 983.2,1858C977.7,1866.6 972.2,1876.6 966.6,1886.3C961,1896 955.5,1906.2 949.9,1916.2C944.3,1926.2 938.8,1936.8 933.3,1946.2C927.8,1955.6 921.6,1965.9 916.6,1972.8C911.6,1979.7 905.5,1985.3 903.3,1987.8Z" fill="#D8684F" fill-opacity="0.5" clip-path="url(#cpc)"/>
<path d="M1296.5,1856.2C1298.1,1858.9 1301.9,1865.3 1306.2,1872.3C1310.5,1879.3 1316.9,1889.8 1322.3,1898.2C1327.7,1906.6 1333.1,1913.8 1338.5,1922.4C1343.9,1931 1349.2,1940.5 1354.6,1949.9C1360,1959.3 1365.4,1969.8 1370.8,1978.9C1376.2,1988.1 1381.5,1996.5 1386.9,2004.8C1392.3,2013.1 1397.7,2021.5 1403.1,2029C1408.5,2036.5 1413.8,2043.8 1419.2,2050C1424.6,2056.2 1430,2061.3 1435.4,2066.2C1440.8,2071 1446.2,2075.6 1451.6,2079.1C1457,2082.6 1462.3,2085.4 1467.7,2087.2C1473.1,2088.9 1479.4,2089.3 1483.9,2089.6C1488.5,2089.9 1489.2,2090.1 1495,2089.2C1500.8,2088.2 1510.7,2086.2 1518.5,2083.9C1526.3,2081.6 1534.2,2078.2 1542,2075.1C1549.8,2072 1557.7,2068.9 1565.5,2065.1C1573.3,2061.3 1581.2,2056.9 1589,2052.2C1596.8,2047.5 1604.7,2042.8 1612.5,2036.9C1620.3,2031 1628.2,2024.2 1636,2016.9C1643.8,2009.7 1652.7,2001.2 1659.5,1993.4C1666.3,1985.6 1672.3,1976.9 1677.1,1969.9C1681.8,1962.9 1686.2,1954.6 1688,1951.5L1688,1986.4C1686.2,1989.1 1681.8,1995.5 1677.1,2002.8C1672.3,2010 1666.3,2019.5 1659.5,2029.9C1652.7,2040.3 1643.8,2054.5 1636,2065.1C1628.2,2075.7 1620.3,2085.3 1612.5,2093.3C1604.7,2101.3 1596.8,2107 1589,2113.3C1581.2,2119.6 1573.3,2125.6 1565.5,2130.9C1557.7,2136.2 1549.8,2142.1 1542,2145C1534.2,2147.9 1526.3,2146.8 1518.5,2148.5C1510.7,2150.2 1500.8,2153.9 1495,2155C1489.2,2156.1 1488.5,2155 1483.9,2155C1479.4,2155 1473.1,2155.1 1467.7,2155C1462.3,2154.9 1457,2154.7 1451.6,2154.2C1446.2,2153.7 1440.8,2152.9 1435.4,2151.8C1430,2150.7 1424.6,2149.4 1419.2,2147.8C1413.8,2146.2 1408.5,2144.1 1403.1,2142.1C1397.7,2140.1 1392.3,2139.6 1386.9,2135.6C1381.5,2131.6 1376.2,2124.1 1370.8,2117.9C1365.4,2111.7 1360,2106.1 1354.6,2098.5C1349.2,2090.9 1343.9,2082 1338.5,2072.6C1333.1,2063.2 1327.7,2052.1 1322.3,2041.9C1316.9,2031.7 1311,2020.1 1306.2,2011.2C1301.4,2002.3 1295.4,1992.4 1293.2,1988.6Z" fill="#5B8BD0" fill-opacity="0.55" clip-path="url(#cpc)"/>
<path d="M901,1972.8C901.4,1972.1 900.7,1974.4 903.3,1968.6C905.9,1962.8 911.6,1949.4 916.6,1937.9C921.6,1926.4 927.8,1912.9 933.3,1899.6C938.8,1886.3 944.3,1871.3 949.9,1858C955.5,1844.7 961,1830.5 966.6,1819.7C972.2,1808.9 977.7,1801.1 983.2,1793.1C988.7,1785.1 994.2,1777.9 999.8,1771.5C1005.3,1765.1 1011,1759.4 1016.5,1754.8C1022,1750.2 1027.5,1746.8 1033.1,1744C1038.6,1741.2 1044.2,1739.9 1049.8,1738.2C1055.3,1736.5 1060.9,1735 1066.4,1734C1071.9,1733 1077.5,1732.2 1083,1732.4C1088.5,1732.6 1094.9,1733.7 1099.7,1734.9C1104.5,1736.2 1106.8,1738 1111.6,1739.9C1116.4,1741.8 1122.8,1744 1128.3,1746.5C1133.8,1749 1139.4,1751.6 1144.9,1754.8C1150.5,1758 1156,1761.7 1161.6,1765.6C1167.1,1769.5 1172.7,1773.8 1178.2,1778.1C1183.7,1782.4 1189.2,1786.7 1194.8,1791.4C1200.3,1796.1 1206,1801.4 1211.5,1806.4C1217,1811.4 1222.5,1816.1 1228.1,1821.4C1233.6,1826.7 1239.2,1831.3 1244.8,1838C1250.3,1844.7 1255.9,1853.2 1261.4,1861.3C1266.9,1869.3 1272.2,1876 1278,1886.3C1283.8,1896.6 1293.2,1916.8 1296.3,1922.9" fill="none" stroke="#DB6E62" stroke-width="7" clip-path="url(#cpc)"/>
<path d="M1295.7,1924.8C1297.5,1927.4 1301.8,1933.1 1306.2,1940.2C1310.6,1947.3 1316.9,1958.4 1322.3,1967.6C1327.7,1976.8 1333.1,1986.2 1338.5,1995.1C1343.9,2004 1349.2,2012.6 1354.6,2020.9C1360,2029.2 1365.4,2037.7 1370.8,2045.2C1376.2,2052.8 1381.5,2059.8 1386.9,2066.2C1392.3,2072.6 1397.7,2078.5 1403.1,2083.9C1408.5,2089.3 1413.8,2094.2 1419.2,2098.5C1424.6,2102.8 1430,2106.7 1435.4,2109.8C1440.8,2112.9 1446.2,2115.2 1451.6,2117.1C1457,2119 1462.3,2120.2 1467.7,2121.1C1473.1,2122 1479.4,2122.3 1483.9,2122.4C1488.5,2122.5 1489.2,2122.7 1495,2121.8C1500.8,2120.9 1510.7,2118.9 1518.5,2116.8C1526.3,2114.7 1534.2,2112.3 1542,2109.2C1549.8,2106.1 1557.7,2102.2 1565.5,2098C1573.3,2093.8 1581.2,2089.2 1589,2083.9C1596.8,2078.6 1604.7,2073.2 1612.5,2066.3C1620.3,2059.5 1628.2,2051.4 1636,2042.8C1643.8,2034.2 1652.7,2023.4 1659.5,2014.6C1666.3,2005.8 1672.1,1997.5 1677.1,1989.9C1682.1,1982.4 1687.4,1972.7 1689.5,1969.3" fill="none" stroke="#4A8ECB" stroke-width="7" clip-path="url(#cpc)"/>
<g transform="translate(807,-0.3)"><g transform="translate(175.4,2021)"><path d="M0,3.6C4,3.1 14.2,1.3 23.8,0.8C33.4,0.3 47.4,0 57.7,0.8C68,1.6 76.9,4.1 85.4,5.4C93.9,6.7 102.7,8 108.5,8.8C114.3,9.6 117.5,9.7 120.5,10.3C123.5,10.9 124.7,11.4 126.5,12.6C128.3,13.8 130.1,15.6 131.5,17.5C132.9,19.4 133.6,20.9 135.2,24.3C136.8,27.7 138.3,31.9 140.8,37.7C143.3,43.5 146.9,51.5 150,59.2C153.1,66.9 156.4,75.6 159.2,83.8C162,92 165.1,102.8 166.9,108.5C168.7,114.2 168.8,115.4 170.2,118.2C171.6,121 173,123.5 175.5,125.6C178,127.7 179.9,129.5 185.4,130.6C190.9,131.7 201.6,132.2 208.5,132.3C215.4,132.4 223.2,131.1 226.9,131.2C230.6,131.3 230.5,132.3 230.8,133.1C231.1,133.9 232.2,134.5 228.5,136.2C224.8,137.9 215.2,141 208.5,143.1C201.8,145.2 193.6,146.6 188.5,148.5C183.4,150.4 181.3,152.9 177.7,154.6C174.1,156.3 169.8,158.3 166.9,158.5C164,158.7 162.1,158.1 160.2,155.6C158.3,153.1 157.3,147.4 155.6,143.3C153.9,139.2 152.7,135.6 150,130.8C147.3,126 143.6,120.9 139.2,114.6C134.8,108.3 127.6,99 123.8,93.1C120,87.2 118.1,83.8 116.2,79.2C114.3,74.6 113.3,69.6 112.3,65.4C111.3,61.3 111,56.8 110.3,54.3C109.5,51.8 108.8,51.1 107.8,50.3C106.8,49.4 107.7,49 104,49.2C100.3,49.4 93.6,50.6 85.4,51.5C77.2,52.4 64.4,53.8 54.6,54.6C44.9,55.4 34.6,56.2 26.9,56.5C19.2,56.8 13,56.5 8.5,56.2C4,55.9 1.4,54.9 0,54.6Z" fill="#F8E6D1"/><path d="M0,3.6C4,3.1 14.2,1.3 23.8,0.8C33.4,0.3 47.4,0 57.7,0.8C68,1.6 76.9,4.1 85.4,5.4C93.9,6.7 102.7,8 108.5,8.8C114.3,9.6 117.5,9.7 120.5,10.3C123.5,10.9 124.7,11.4 126.5,12.6C128.3,13.8 130.1,15.6 131.5,17.5C132.9,19.4 133.6,20.9 135.2,24.3C136.8,27.7 138.3,31.9 140.8,37.7C143.3,43.5 146.9,51.5 150,59.2C153.1,66.9 156.4,75.6 159.2,83.8C162,92 165.1,102.8 166.9,108.5C168.7,114.2 168.8,115.4 170.2,118.2C171.6,121 173,123.5 175.5,125.6C178,127.7 179.9,129.5 185.4,130.6C190.9,131.7 201.6,132.2 208.5,132.3C215.4,132.4 223.2,131.1 226.9,131.2C230.6,131.3 230.5,132.3 230.8,133.1C231.1,133.9 232.2,134.5 228.5,136.2C224.8,137.9 215.2,141 208.5,143.1C201.8,145.2 193.6,146.6 188.5,148.5C183.4,150.4 181.3,152.9 177.7,154.6C174.1,156.3 169.8,158.3 166.9,158.5C164,158.7 162.1,158.1 160.2,155.6C158.3,153.1 157.3,147.4 155.6,143.3C153.9,139.2 152.7,135.6 150,130.8C147.3,126 143.6,120.9 139.2,114.6C134.8,108.3 127.6,99 123.8,93.1C120,87.2 118.1,83.8 116.2,79.2C114.3,74.6 113.3,69.6 112.3,65.4C111.3,61.3 111,56.8 110.3,54.3C109.5,51.8 108.8,51.1 107.8,50.3C106.8,49.4 107.7,49 104,49.2C100.3,49.4 93.6,50.6 85.4,51.5C77.2,52.4 64.4,53.8 54.6,54.6C44.9,55.4 34.6,56.2 26.9,56.5C19.2,56.8 13,56.5 8.5,56.2C4,55.9 1.4,54.9 0,54.6" fill="none" stroke="#2e2a28" stroke-width="0.9" vector-effect="non-scaling-stroke"/><path d="M6.7,16.9C25,1 72,-4 101,17.3C78,28 30,29 6.7,16.9Z" fill="#DC6B60"/><path d="M6.5,24.2C9,23.6 12,24.6 14,25.2L104,25.2C106,22.6 110,22 114,22.2C119,22.6 122,25.5 122,30L122,39.5C122,42.5 119.5,44 116.5,44C113,44 110.5,42 110.5,38.5L110.5,36.2L14,36.2C12,36.8 9,37.8 6.5,37.2C3.5,36.6 2.4,33.5 2.4,30.7C2.4,27.5 3.8,24.7 6.5,24.2Z" fill="url(#bone)"/><path d="M22.3,40.3C40,36 80,35.5 98.5,39.2C80,44.5 40,47.5 22.3,40.3Z" fill="url(#gmus)"/><path d="M125.3,126.1Q160,137 174.5,104" fill="none" stroke="#5f5a57" stroke-width="3"/><path d="M176,79.7L186.9,106.3L176,100.2L164.7,106.1Z" fill="#5f5a57"/></g></g>
<g transform="translate(848.6,1.5)"><g transform="translate(545.4,1787) scale(0.94,0.965)"><path d="M0,3.6C4,3.1 14.2,1.3 23.8,0.8C33.4,0.3 47.4,0 57.7,0.8C68,1.6 76.9,4.1 85.4,5.4C93.9,6.7 102.7,8 108.5,8.8C114.3,9.6 117.5,9.7 120.5,10.3C123.5,10.9 124.7,11.4 126.5,12.6C128.3,13.8 130.1,15.6 131.5,17.5C132.9,19.4 133.6,20.9 135.2,24.3C136.8,27.7 138.3,31.9 140.8,37.7C143.3,43.5 146.9,51.5 150,59.2C153.1,66.9 156.4,75.6 159.2,83.8C162,92 165.1,102.8 166.9,108.5C168.7,114.2 168.8,115.4 170.2,118.2C171.6,121 173,123.5 175.5,125.6C178,127.7 179.9,129.5 185.4,130.6C190.9,131.7 201.6,132.2 208.5,132.3C215.4,132.4 223.2,131.1 226.9,131.2C230.6,131.3 230.5,132.3 230.8,133.1C231.1,133.9 232.2,134.5 228.5,136.2C224.8,137.9 215.2,141 208.5,143.1C201.8,145.2 193.6,146.6 188.5,148.5C183.4,150.4 181.3,152.9 177.7,154.6C174.1,156.3 169.8,158.3 166.9,158.5C164,158.7 162.1,158.1 160.2,155.6C158.3,153.1 157.3,147.4 155.6,143.3C153.9,139.2 152.7,135.6 150,130.8C147.3,126 143.6,120.9 139.2,114.6C134.8,108.3 127.6,99 123.8,93.1C120,87.2 118.1,83.8 116.2,79.2C114.3,74.6 113.3,69.6 112.3,65.4C111.3,61.3 111,56.8 110.3,54.3C109.5,51.8 108.8,51.1 107.8,50.3C106.8,49.4 107.7,49 104,49.2C100.3,49.4 93.6,50.6 85.4,51.5C77.2,52.4 64.4,53.8 54.6,54.6C44.9,55.4 34.6,56.2 26.9,56.5C19.2,56.8 13,56.5 8.5,56.2C4,55.9 1.4,54.9 0,54.6Z" fill="#F8E6D1"/><path d="M0,3.6C4,3.1 14.2,1.3 23.8,0.8C33.4,0.3 47.4,0 57.7,0.8C68,1.6 76.9,4.1 85.4,5.4C93.9,6.7 102.7,8 108.5,8.8C114.3,9.6 117.5,9.7 120.5,10.3C123.5,10.9 124.7,11.4 126.5,12.6C128.3,13.8 130.1,15.6 131.5,17.5C132.9,19.4 133.6,20.9 135.2,24.3C136.8,27.7 138.3,31.9 140.8,37.7C143.3,43.5 146.9,51.5 150,59.2C153.1,66.9 156.4,75.6 159.2,83.8C162,92 165.1,102.8 166.9,108.5C168.7,114.2 168.8,115.4 170.2,118.2C171.6,121 173,123.5 175.5,125.6C178,127.7 179.9,129.5 185.4,130.6C190.9,131.7 201.6,132.2 208.5,132.3C215.4,132.4 223.2,131.1 226.9,131.2C230.6,131.3 230.5,132.3 230.8,133.1C231.1,133.9 232.2,134.5 228.5,136.2C224.8,137.9 215.2,141 208.5,143.1C201.8,145.2 193.6,146.6 188.5,148.5C183.4,150.4 181.3,152.9 177.7,154.6C174.1,156.3 169.8,158.3 166.9,158.5C164,158.7 162.1,158.1 160.2,155.6C158.3,153.1 157.3,147.4 155.6,143.3C153.9,139.2 152.7,135.6 150,130.8C147.3,126 143.6,120.9 139.2,114.6C134.8,108.3 127.6,99 123.8,93.1C120,87.2 118.1,83.8 116.2,79.2C114.3,74.6 113.3,69.6 112.3,65.4C111.3,61.3 111,56.8 110.3,54.3C109.5,51.8 108.8,51.1 107.8,50.3C106.8,49.4 107.7,49 104,49.2C100.3,49.4 93.6,50.6 85.4,51.5C77.2,52.4 64.4,53.8 54.6,54.6C44.9,55.4 34.6,56.2 26.9,56.5C19.2,56.8 13,56.5 8.5,56.2C4,55.9 1.4,54.9 0,54.6" fill="none" stroke="#2e2a28" stroke-width="0.9" vector-effect="non-scaling-stroke"/><path d="M15.5,15.8C35,10.8 80,10.5 100.6,14.5C82,20.5 40,22.5 15.5,15.8Z" fill="url(#gmus)"/><g transform="translate(0,-3)"><path d="M6.5,24.2C9,23.6 12,24.6 14,25.2L104,25.2C106,22.6 110,22 114,22.2C119,22.6 122,25.5 122,30L122,39.5C122,42.5 119.5,44 116.5,44C113,44 110.5,42 110.5,38.5L110.5,36.2L14,36.2C12,36.8 9,37.8 6.5,37.2C3.5,36.6 2.4,33.5 2.4,30.7C2.4,27.5 3.8,24.7 6.5,24.2Z" fill="url(#bone)"/></g><path d="M101.4,37.2C80,33.5 45,32.5 30,34.5C20,36 16.5,41 17.8,45.3C19.5,52 32,56 44.4,54.9C62,53 82,45 101.4,37.2Z" fill="#4A8ECB"/></g><path d="M700,1859.3C703,1875 700,1900 674,1906.5" fill="none" stroke="#5f5a57" stroke-width="3"/><path d="M651.1,1905.7L677.3,1896.9L671.5,1907.2L676.6,1918.5Z" fill="#5f5a57"/></g>
<rect x="903.7" y="1627.3" width="789" height="597" fill="none" stroke="#808285" stroke-width="2"/>
<line x1="1295" y1="2224" x2="1295" y2="2215" stroke="#808285" stroke-width="2"/>
<text x="907.4" y="2259" font-size="25.4" text-anchor="middle">0</text>
<text x="1295.7" y="2259.3" font-size="25.4" text-anchor="middle">50%</text>
<text x="1646.6" y="2259.3" font-size="25.4" text-anchor="middle">100%</text>
<text x="1287" y="2293.6" font-size="25.4" text-anchor="middle">Repetition</text>
<text x="1562" y="1668.8" font-size="25.4">Week 6</text>
<text x="1027" y="1720.8" font-size="25.4">Quadriceps</text>
<text x="1395.4" y="1721" font-size="25.4">Hamstrings</text>
<text x="1062" y="2217" font-size="25.4">Lift</text>
<text x="1440" y="2217" font-size="25.4">Retract</text>
<text x="865" y="1654.3" font-size="27" font-weight="bold">c</text>
<rect x="1752" y="1626" width="294.5" height="598.4" fill="none" stroke="#808285" stroke-width="2"/>
<text x="1713.5" y="1656.2" font-size="28" font-weight="bold">d</text>
<line x1="1824.3" y1="1772" x2="1921" y2="1772" stroke="#A3A4A6" stroke-width="3" stroke-dasharray="10 7.6"/>
<line x1="1823.4" y1="2138.2" x2="1921" y2="2138.2" stroke="#A3A4A6" stroke-width="3" stroke-dasharray="10 7.6"/>
<line x1="1838.7" y1="1797" x2="1838.7" y2="2111" stroke="#A0A2A5" stroke-width="7"/>
<path d="M1838.7,1772.3L1852.2,1803L1838.7,1797.5L1825.1,1803Z" fill="#A0A2A5"/>
<path d="M1838.7,2137.2L1852.1,2105.3L1838.7,2110.8L1825.3,2105.3Z" fill="#A0A2A5"/>
<rect x="1835.1" y="1852" width="60.8" height="115" fill="#fff" stroke="#D9675C" stroke-width="3.2"/>
<rect x="1922.8" y="1770.6" width="61.4" height="196.4" fill="#fff" stroke="#D9675C" stroke-width="3.2"/>
<rect x="1834.9" y="1967" width="60.9" height="94" fill="#fff" stroke="#4A8ECB" stroke-width="3.2"/>
<rect x="1922.8" y="1967" width="61.5" height="171.8" fill="#fff" stroke="#4A8ECB" stroke-width="3.2"/>
<path d="M1865.6,1817.2V1889.6M1847.7,1817.2H1883.5M1847.7,1889.6H1883.5" fill="none" stroke="#D9675C" stroke-width="3.2"/>
<path d="M1954.1,1710.9V1834.9M1936.2,1710.9H1972M1936.2,1834.9H1972" fill="none" stroke="#D9675C" stroke-width="3.2"/>
<path d="M1865.6,2021.4V2100.3M1847.7,2021.4H1883.5M1847.7,2100.3H1883.5" fill="none" stroke="#4A8ECB" stroke-width="3.2"/>
<path d="M1953.6,2107.2V2172.1M1935.7,2107.2H1971.5M1935.7,2172.1H1971.5" fill="none" stroke="#4A8ECB" stroke-width="3.2"/>
<g fill="#F6A66C"><circle cx="1871.2" cy="1790.4" r="6.5"/><circle cx="1849.2" cy="1814.3" r="6.5"/><circle cx="1881.8" cy="1826.5" r="6.5"/><circle cx="1872.5" cy="1835.8" r="6.5"/><circle cx="1851.2" cy="1844.2" r="6.5"/><circle cx="1856.3" cy="1856.9" r="6.5"/><circle cx="1846.6" cy="1867.4" r="6.5"/><circle cx="1864.7" cy="1876.4" r="6.5"/><circle cx="1854.6" cy="1889.4" r="6.5"/><circle cx="1875.2" cy="1913.7" r="6.5"/><circle cx="1956.1" cy="1661.5" r="6.5"/><circle cx="1980" cy="1707.5" r="6.5"/><circle cx="1969.8" cy="1719.3" r="6.5"/><circle cx="1955.3" cy="1739.3" r="6.5"/><circle cx="1964.2" cy="1743" r="6.5"/><circle cx="1937.2" cy="1802.4" r="6.5"/><circle cx="1957.8" cy="1819.4" r="6.5"/><circle cx="1981.5" cy="1820" r="6.5"/><circle cx="1971.3" cy="1837.8" r="6.5"/><circle cx="1942.2" cy="1844.7" r="6.5"/></g>
<g fill="#10BEEC"><circle cx="1863.3" cy="2006.9" r="6.5"/><circle cx="1860.4" cy="2029.8" r="6.5"/><circle cx="1848" cy="2036.3" r="6.5"/><circle cx="1877.5" cy="2032.3" r="6.5"/><circle cx="1877.5" cy="2044.8" r="6.5"/><circle cx="1875" cy="2059.8" r="6.5"/><circle cx="1854.5" cy="2071.6" r="6.5"/><circle cx="1878.9" cy="2090.9" r="6.5"/><circle cx="1856.5" cy="2117.9" r="6.5"/><circle cx="1874.6" cy="2125.1" r="6.5"/><circle cx="1965.5" cy="2091.8" r="6.5"/><circle cx="1947.2" cy="2099.1" r="6.5"/><circle cx="1938.2" cy="2126.5" r="6.5"/><circle cx="1975.2" cy="2129" r="6.5"/><circle cx="1954.4" cy="2133.6" r="6.5"/><circle cx="1966.3" cy="2139.1" r="6.5"/><circle cx="1939" cy="2141.7" r="6.5"/><circle cx="1955.6" cy="2152.4" r="6.5"/><circle cx="1959.5" cy="2178.9" r="6.5"/><circle cx="1960.9" cy="2198.5" r="6.5"/></g>
<path d="M1870,1650.5V1636.9H1954.1V1650.5" fill="none" stroke="#D9675C" stroke-width="3.4"/>
<path d="M1870.7,2207.1V2217.9H1953.5V2207.1" fill="none" stroke="#4A8ECB" stroke-width="3.4"/>
<text transform="translate(1915.4,1650.9) rotate(90)" x="0" y="16.7" font-family="DejaVu Sans" font-size="32.5" text-anchor="middle" fill="#D9675C">*</text>
<text transform="translate(1911.3,2204.5) rotate(90)" x="0" y="16.7" font-family="DejaVu Sans" font-size="32.5" text-anchor="middle" fill="#4A8ECB">*</text>
<text x="1847" y="1763.5" font-size="25.4" fill="#6D6E71">70%</text>
<text x="1821.5" y="2162.7" font-size="25.4" fill="#6D6E71">84%</text>
<text transform="translate(1879,2250.5) rotate(-30)" font-size="25.4" text-anchor="end">Week 1</text>
<text transform="translate(1981.4,2250.5) rotate(-30)" font-size="25.4" text-anchor="end">Week 6</text>
</svg>
</body></html>
